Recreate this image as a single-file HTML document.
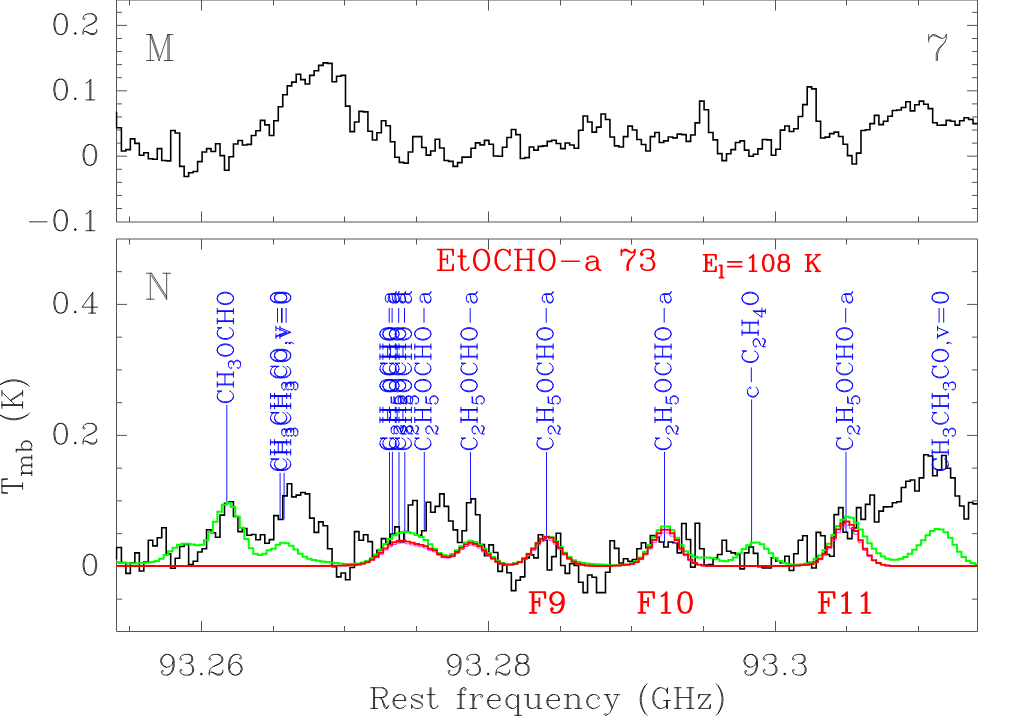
<!DOCTYPE html>
<html><head><meta charset="utf-8"><title>spectrum</title>
<style>html,body{margin:0;padding:0;background:#fff;font-family:"Liberation Sans",sans-serif}svg{display:block}</style>
</head><body>
<svg width="1025" height="717" viewBox="0 0 1025 717">
<title>EtOCHO-a 73 spectrum, panels M and N</title>
<desc>Two stacked spectra (panel M, panel N, figure 7). Axes: Rest frequency (GHz) 93.26 93.28 93.3; T_mb (K). Title: EtOCHO-a 73, E_l=108 K. Features F9 F10 F11. Line labels: CH3OCHO; CH3CH3CO,v=0; C2H5OCHO-a; c-C2H4O.</desc>
<rect width="1025" height="717" fill="#fff"/>
<path d="M129.50 222.0 v-5.5M129.50 0.0 v5.5M201.50 222.0 v-10.5M201.50 0.0 v10.5M273.50 222.0 v-5.5M273.50 0.0 v5.5M344.50 222.0 v-5.5M344.50 0.0 v5.5M416.50 222.0 v-5.5M416.50 0.0 v5.5M488.50 222.0 v-10.5M488.50 0.0 v10.5M560.50 222.0 v-5.5M560.50 0.0 v5.5M631.50 222.0 v-5.5M631.50 0.0 v5.5M703.50 222.0 v-5.5M703.50 0.0 v5.5M775.50 222.0 v-10.5M775.50 0.0 v10.5M846.50 222.0 v-5.5M846.50 0.0 v5.5M918.50 222.0 v-5.5M918.50 0.0 v5.5M116.5 208.52 h5.5M977.5 208.52 h-5.5M116.5 195.44 h5.5M977.5 195.44 h-5.5M116.5 182.36 h5.5M977.5 182.36 h-5.5M116.5 169.28 h5.5M977.5 169.28 h-5.5M116.5 156.20 h10.5M977.5 156.20 h-10.5M116.5 143.12 h5.5M977.5 143.12 h-5.5M116.5 130.04 h5.5M977.5 130.04 h-5.5M116.5 116.96 h5.5M977.5 116.96 h-5.5M116.5 103.88 h5.5M977.5 103.88 h-5.5M116.5 90.80 h10.5M977.5 90.80 h-10.5M116.5 77.72 h5.5M977.5 77.72 h-5.5M116.5 64.64 h5.5M977.5 64.64 h-5.5M116.5 51.56 h5.5M977.5 51.56 h-5.5M116.5 38.48 h5.5M977.5 38.48 h-5.5M116.5 25.40 h10.5M977.5 25.40 h-10.5M116.5 12.32 h5.5M977.5 12.32 h-5.5" stroke="#555" stroke-width="1" fill="none"/>
<path d="M129.50 631.5 v-5.5M129.50 239.0 v5.5M201.50 631.5 v-10.5M201.50 239.0 v10.5M273.50 631.5 v-5.5M273.50 239.0 v5.5M344.50 631.5 v-5.5M344.50 239.0 v5.5M416.50 631.5 v-5.5M416.50 239.0 v5.5M488.50 631.5 v-10.5M488.50 239.0 v10.5M560.50 631.5 v-5.5M560.50 239.0 v5.5M631.50 631.5 v-5.5M631.50 239.0 v5.5M703.50 631.5 v-5.5M703.50 239.0 v5.5M775.50 631.5 v-10.5M775.50 239.0 v10.5M846.50 631.5 v-5.5M846.50 239.0 v5.5M918.50 631.5 v-5.5M918.50 239.0 v5.5M116.5 599.15 h5.5M977.5 599.15 h-5.5M116.5 566.40 h10.5M977.5 566.40 h-10.5M116.5 533.65 h5.5M977.5 533.65 h-5.5M116.5 500.90 h5.5M977.5 500.90 h-5.5M116.5 468.15 h5.5M977.5 468.15 h-5.5M116.5 435.40 h10.5M977.5 435.40 h-10.5M116.5 402.65 h5.5M977.5 402.65 h-5.5M116.5 369.90 h5.5M977.5 369.90 h-5.5M116.5 337.15 h5.5M977.5 337.15 h-5.5M116.5 304.40 h10.5M977.5 304.40 h-10.5M116.5 271.65 h5.5M977.5 271.65 h-5.5" stroke="#555" stroke-width="1" fill="none"/>
<path d="M116.5 0.0 H977.5 V222.0 H116.5 Z M116.5 239.0 H977.5 V631.5 H116.5 Z" stroke="#555" stroke-width="1" fill="none"/>
<defs><clipPath id="ct"><rect x="115.5" y="0.0" width="862.6" height="222.0"/></clipPath><clipPath id="cb"><rect x="115.5" y="239.0" width="862.6" height="392.5"/></clipPath></defs>
<path d="M116.50 111.83 L116.50 127.77 L121.40 127.77 L121.40 150.93 L125.88 150.93 L125.88 149.58 L130.36 149.58 L130.36 138.85 L134.85 138.85 L134.85 143.38 L139.33 143.38 L139.33 155.29 L143.81 155.29 L143.81 152.77 L148.29 152.77 L148.29 158.81 L152.78 158.81 L152.78 159.32 L157.26 159.32 L157.26 148.58 L161.74 148.58 L161.74 160.49 L166.22 160.49 L166.22 160.83 L170.70 160.83 L170.70 130.46 L175.19 130.46 L175.19 132.97 L179.67 132.97 L179.67 166.36 L184.15 166.36 L184.15 176.43 L188.63 176.43 L188.63 172.74 L193.12 172.74 L193.12 171.56 L197.60 171.56 L197.60 161.66 L202.08 161.66 L202.08 151.93 L206.56 151.93 L206.56 148.58 L211.04 148.58 L211.04 151.43 L215.53 151.43 L215.53 143.71 L220.01 143.71 L220.01 155.62 L224.49 155.62 L224.49 170.22 L228.97 170.22 L228.97 156.80 L233.45 156.80 L233.45 144.05 L237.94 144.05 L237.94 140.52 L242.42 140.52 L242.42 145.05 L246.90 145.05 L246.90 144.38 L251.38 144.38 L251.38 135.49 L255.87 135.49 L255.87 130.79 L260.35 130.79 L260.35 120.39 L264.83 120.39 L264.83 124.92 L269.31 124.92 L269.31 135.49 L273.79 135.49 L273.79 120.72 L278.28 120.72 L278.28 106.80 L282.76 106.80 L282.76 94.72 L287.24 94.72 L287.24 85.83 L291.72 85.83 L291.72 82.13 L296.21 82.13 L296.21 74.25 L300.69 74.25 L300.69 79.62 L305.17 79.62 L305.17 83.98 L309.65 83.98 L309.65 75.42 L314.13 75.42 L314.13 70.72 L318.62 70.72 L318.62 65.36 L323.10 65.36 L323.10 62.84 L327.58 62.84 L327.58 63.34 L332.06 63.34 L332.06 81.80 L336.55 81.80 L336.55 76.26 L341.03 76.26 L341.03 75.42 L345.51 75.42 L345.51 106.13 L349.99 106.13 L349.99 131.63 L354.47 131.63 L354.47 122.07 L358.96 122.07 L358.96 111.33 L363.44 111.33 L363.44 111.83 L367.92 111.83 L367.92 131.30 L372.40 131.30 L372.40 140.02 L376.89 140.02 L376.89 132.81 L381.37 132.81 L381.37 120.72 L385.85 120.72 L385.85 125.76 L390.33 125.76 L390.33 141.70 L394.81 141.70 L394.81 157.30 L399.30 157.30 L399.30 162.34 L403.78 162.34 L403.78 163.17 L408.26 163.17 L408.26 151.93 L412.74 151.93 L412.74 136.66 L417.23 136.66 L417.23 136.66 L421.71 136.66 L421.71 147.57 L426.19 147.57 L426.19 155.12 L430.67 155.12 L430.67 150.93 L435.15 150.93 L435.15 139.18 L439.64 139.18 L439.64 148.07 L444.12 148.07 L444.12 160.49 L448.60 160.49 L448.60 161.33 L453.08 161.33 L453.08 166.36 L457.56 166.36 L457.56 162.67 L462.05 162.67 L462.05 157.13 L466.53 157.13 L466.53 157.13 L471.01 157.13 L471.01 148.24 L475.49 148.24 L475.49 142.87 L479.98 142.87 L479.98 144.89 L484.46 144.89 L484.46 140.36 L488.94 140.36 L488.94 144.21 L493.42 144.21 L493.42 155.96 L497.90 155.96 L497.90 156.30 L502.39 156.30 L502.39 147.23 L506.87 147.23 L506.87 137.50 L511.35 137.50 L511.35 129.45 L515.83 129.45 L515.83 134.65 L520.32 134.65 L520.32 158.48 L524.80 158.48 L524.80 157.64 L529.28 157.64 L529.28 147.07 L533.76 147.07 L533.76 150.09 L538.24 150.09 L538.24 146.40 L542.73 146.40 L542.73 145.89 L547.21 145.89 L547.21 141.36 L551.69 141.36 L551.69 140.19 L556.17 140.19 L556.17 143.54 L560.66 143.54 L560.66 148.58 L565.14 148.58 L565.14 143.04 L569.62 143.04 L569.62 145.05 L574.10 145.05 L574.10 148.24 L578.58 148.24 L578.58 130.29 L583.07 130.29 L583.07 116.03 L587.55 116.03 L587.55 122.07 L592.03 122.07 L592.03 132.13 L596.51 132.13 L596.51 127.10 L601.00 127.10 L601.00 114.01 L605.48 114.01 L605.48 119.55 L609.96 119.55 L609.96 137.00 L614.44 137.00 L614.44 145.89 L618.92 145.89 L618.92 147.07 L623.41 147.07 L623.41 136.66 L627.89 136.66 L627.89 126.09 L632.37 126.09 L632.37 129.95 L636.85 129.95 L636.85 139.52 L641.34 139.52 L641.34 144.55 L645.82 144.55 L645.82 150.93 L650.30 150.93 L650.30 136.66 L654.78 136.66 L654.78 132.47 L659.26 132.47 L659.26 142.54 L663.75 142.54 L663.75 140.86 L668.23 140.86 L668.23 137.00 L672.71 137.00 L672.71 137.84 L677.19 137.84 L677.19 134.15 L681.67 134.15 L681.67 134.65 L686.16 134.65 L686.16 141.36 L690.64 141.36 L690.64 134.99 L695.12 134.99 L695.12 122.91 L699.60 122.91 L699.60 101.09 L704.09 101.09 L704.09 109.82 L708.57 109.82 L708.57 132.47 L713.05 132.47 L713.05 139.85 L717.53 139.85 L717.53 153.61 L722.01 153.61 L722.01 160.66 L726.50 160.66 L726.50 153.78 L730.98 153.78 L730.98 149.58 L735.46 149.58 L735.46 142.54 L739.94 142.54 L739.94 140.86 L744.43 140.86 L744.43 150.09 L748.91 150.09 L748.91 156.30 L753.39 156.30 L753.39 154.28 L757.87 154.28 L757.87 148.91 L762.35 148.91 L762.35 139.52 L766.84 139.52 L766.84 139.85 L771.32 139.85 L771.32 155.29 L775.80 155.29 L775.80 149.25 L780.28 149.25 L780.28 130.12 L784.77 130.12 L784.77 125.93 L789.25 125.93 L789.25 131.46 L793.73 131.46 L793.73 128.78 L798.21 128.78 L798.21 116.53 L802.69 116.53 L802.69 104.62 L807.18 104.62 L807.18 86.83 L811.66 86.83 L811.66 88.85 L816.14 88.85 L816.14 121.23 L820.62 121.23 L820.62 138.01 L825.11 138.01 L825.11 137.17 L829.59 137.17 L829.59 133.64 L834.07 133.64 L834.07 132.13 L838.55 132.13 L838.55 136.50 L843.03 136.50 L843.03 144.21 L847.52 144.21 L847.52 155.62 L852.00 155.62 L852.00 164.01 L856.48 164.01 L856.48 153.11 L860.96 153.11 L860.96 130.46 L865.45 130.46 L865.45 129.79 L869.93 129.79 L869.93 123.58 L874.41 123.58 L874.41 115.36 L878.89 115.36 L878.89 124.58 L883.37 124.58 L883.37 121.23 L887.86 121.23 L887.86 116.19 L892.34 116.19 L892.34 110.49 L896.82 110.49 L896.82 109.99 L901.30 109.99 L901.30 107.47 L905.78 107.47 L905.78 101.77 L910.27 101.77 L910.27 110.83 L914.75 110.83 L914.75 104.79 L919.23 104.79 L919.23 101.09 L923.71 101.09 L923.71 104.28 L928.20 104.28 L928.20 108.64 L932.68 108.64 L932.68 122.74 L937.16 122.74 L937.16 125.26 L941.64 125.26 L941.64 125.09 L946.12 125.09 L946.12 120.39 L950.61 120.39 L950.61 121.23 L955.09 121.23 L955.09 125.09 L959.57 125.09 L959.57 120.72 L964.05 120.72 L964.05 117.70 L968.54 117.70 L968.54 119.38 L973.02 119.38 L973.02 123.58 L977.50 123.58" stroke="#000" stroke-width="1.6" fill="none" stroke-linejoin="miter" clip-path="url(#ct)"/>
<path d="M226.80 404.87 V502.20M280.10 472.77 V519.50M284.10 472.77 V519.50M389.50 451.94 V543.10M392.40 451.94 V534.30M399.00 451.94 V526.80M404.80 451.94 V540.50M424.30 451.94 V531.40M470.50 451.94 V498.90M546.50 451.94 V540.00M664.50 451.94 V542.60M751.60 399.47 V546.40M846.00 451.94 V532.20" stroke="#0000ff" stroke-width="0.9" fill="none" clip-path="url(#cb)"/>
<path d="M116.50 559.43 L116.50 547.52 L121.40 547.52 L121.40 562.62 L125.88 562.62 L125.88 573.36 L130.36 573.36 L130.36 562.95 L134.85 562.95 L134.85 552.89 L139.33 552.89 L139.33 571.01 L143.81 571.01 L143.81 562.11 L148.29 562.11 L148.29 540.30 L152.78 540.30 L152.78 545.84 L157.26 545.84 L157.26 537.79 L161.74 537.79 L161.74 527.72 L166.22 527.72 L166.22 553.72 L170.70 553.72 L170.70 568.32 L175.19 568.32 L175.19 558.26 L179.67 558.26 L179.67 546.51 L184.15 546.51 L184.15 544.50 L188.63 544.50 L188.63 564.63 L193.12 564.63 L193.12 561.28 L197.60 561.28 L197.60 552.05 L202.08 552.05 L202.08 548.69 L206.56 548.69 L206.56 529.73 L211.04 529.73 L211.04 532.75 L215.53 532.75 L215.53 537.28 L220.01 537.28 L220.01 515.13 L224.49 515.13 L224.49 503.39 L228.97 503.39 L228.97 501.71 L233.45 501.71 L233.45 516.48 L237.94 516.48 L237.94 531.58 L242.42 531.58 L242.42 528.56 L246.90 528.56 L246.90 535.27 L251.38 535.27 L251.38 534.43 L255.87 534.43 L255.87 539.80 L260.35 539.80 L260.35 534.77 L264.83 534.77 L264.83 543.32 L269.31 543.32 L269.31 539.63 L273.79 539.63 L273.79 515.64 L278.28 515.64 L278.28 519.50 L282.76 519.50 L282.76 495.84 L287.24 495.84 L287.24 483.76 L291.72 483.76 L291.72 496.85 L296.21 496.85 L296.21 495.17 L300.69 495.17 L300.69 492.48 L305.17 492.48 L305.17 493.83 L309.65 493.83 L309.65 518.15 L314.13 518.15 L314.13 532.42 L318.62 532.42 L318.62 521.85 L323.10 521.85 L323.10 525.70 L327.58 525.70 L327.58 548.69 L332.06 548.69 L332.06 566.64 L336.55 566.64 L336.55 576.88 L341.03 576.88 L341.03 573.02 L345.51 573.02 L345.51 579.73 L349.99 579.73 L349.99 567.48 L354.47 567.48 L354.47 531.58 L358.96 531.58 L358.96 540.30 L363.44 540.30 L363.44 534.77 L367.92 534.77 L367.92 541.64 L372.40 541.64 L372.40 556.24 L376.89 556.24 L376.89 550.37 L381.37 550.37 L381.37 538.62 L385.85 538.62 L385.85 543.66 L390.33 543.66 L390.33 533.93 L394.81 533.93 L394.81 526.88 L399.30 526.88 L399.30 541.98 L403.78 541.98 L403.78 531.58 L408.26 531.58 L408.26 505.07 L412.74 505.07 L412.74 500.54 L417.23 500.54 L417.23 535.27 L421.71 535.27 L421.71 530.74 L426.19 530.74 L426.19 502.21 L430.67 502.21 L430.67 512.28 L435.15 512.28 L435.15 506.41 L439.64 506.41 L439.64 493.83 L444.12 493.83 L444.12 506.41 L448.60 506.41 L448.60 521.01 L453.08 521.01 L453.08 529.90 L457.56 529.90 L457.56 542.48 L462.05 542.48 L462.05 530.74 L466.53 530.74 L466.53 502.72 L471.01 502.72 L471.01 498.86 L475.49 498.86 L475.49 514.80 L479.98 514.80 L479.98 544.50 L484.46 544.50 L484.46 555.74 L488.94 555.74 L488.94 544.83 L493.42 544.83 L493.42 552.55 L497.90 552.55 L497.90 571.34 L502.39 571.34 L502.39 565.13 L506.87 565.13 L506.87 572.68 L511.35 572.68 L511.35 590.64 L515.83 590.64 L515.83 580.23 L520.32 580.23 L520.32 576.88 L524.80 576.88 L524.80 557.92 L529.28 557.92 L529.28 554.90 L533.76 554.90 L533.76 557.92 L538.24 557.92 L538.24 534.77 L542.73 534.77 L542.73 539.97 L547.21 539.97 L547.21 570.00 L551.69 570.00 L551.69 556.58 L556.17 556.58 L556.17 533.26 L560.66 533.26 L560.66 565.47 L565.14 565.47 L565.14 573.36 L569.62 573.36 L569.62 563.79 L574.10 563.79 L574.10 565.47 L578.58 565.47 L578.58 582.25 L583.07 582.25 L583.07 592.65 L587.55 592.65 L587.55 575.03 L592.03 575.03 L592.03 577.21 L596.51 577.21 L596.51 592.65 L601.00 592.65 L601.00 592.65 L605.48 592.65 L605.48 572.18 L609.96 572.18 L609.96 540.81 L614.44 540.81 L614.44 548.36 L618.92 548.36 L618.92 562.95 L623.41 562.95 L623.41 558.76 L627.89 558.76 L627.89 561.28 L632.37 561.28 L632.37 559.60 L636.85 559.60 L636.85 548.69 L641.34 548.69 L641.34 542.82 L645.82 542.82 L645.82 547.68 L650.30 547.68 L650.30 535.60 L654.78 535.60 L654.78 536.95 L659.26 536.95 L659.26 541.98 L663.75 541.98 L663.75 547.01 L668.23 547.01 L668.23 541.98 L672.71 541.98 L672.71 542.82 L677.19 542.82 L677.19 552.89 L681.67 552.89 L681.67 523.52 L686.16 523.52 L686.16 539.46 L690.64 539.46 L690.64 567.15 L695.12 567.15 L695.12 523.19 L699.60 523.19 L699.60 548.69 L704.09 548.69 L704.09 565.13 L708.57 565.13 L708.57 564.63 L713.05 564.63 L713.05 557.92 L717.53 557.92 L717.53 554.56 L722.01 554.56 L722.01 540.30 L726.50 540.30 L726.50 551.21 L730.98 551.21 L730.98 552.89 L735.46 552.89 L735.46 554.56 L739.94 554.56 L739.94 568.83 L744.43 568.83 L744.43 552.89 L748.91 552.89 L748.91 547.01 L753.39 547.01 L753.39 553.39 L757.87 553.39 L757.87 566.81 L762.35 566.81 L762.35 567.99 L766.84 567.99 L766.84 567.99 L771.32 567.99 L771.32 557.92 L775.80 557.92 L775.80 561.28 L780.28 561.28 L780.28 562.95 L784.77 562.95 L784.77 556.24 L789.25 556.24 L789.25 570.50 L793.73 570.50 L793.73 553.72 L798.21 553.72 L798.21 540.30 L802.69 540.30 L802.69 535.77 L807.18 535.77 L807.18 562.95 L811.66 562.95 L811.66 567.99 L816.14 567.99 L816.14 532.42 L820.62 532.42 L820.62 535.77 L825.11 535.77 L825.11 554.56 L829.59 554.56 L829.59 556.24 L834.07 556.24 L834.07 514.63 L838.55 514.63 L838.55 507.58 L843.03 507.58 L843.03 532.25 L847.52 532.25 L847.52 538.62 L852.00 538.62 L852.00 528.05 L856.48 528.05 L856.48 507.58 L860.96 507.58 L860.96 519.33 L865.45 519.33 L865.45 504.40 L869.93 504.40 L869.93 495.00 L874.41 495.00 L874.41 522.01 L878.89 522.01 L878.89 511.11 L883.37 511.11 L883.37 506.91 L887.86 506.91 L887.86 506.74 L892.34 506.74 L892.34 502.72 L896.82 502.72 L896.82 501.71 L901.30 501.71 L901.30 487.45 L905.78 487.45 L905.78 481.24 L910.27 481.24 L910.27 480.07 L914.75 480.07 L914.75 490.97 L919.23 490.97 L919.23 477.89 L923.71 477.89 L923.71 454.73 L928.20 454.73 L928.20 456.07 L932.68 456.07 L932.68 475.70 L937.16 475.70 L937.16 469.83 L941.64 469.83 L941.64 455.57 L946.12 455.57 L946.12 468.32 L950.61 468.32 L950.61 477.89 L955.09 477.89 L955.09 496.01 L959.57 496.01 L959.57 506.07 L964.05 506.07 L964.05 518.99 L968.54 518.99 L968.54 502.55 L973.02 502.55 L973.02 503.89 L977.50 503.89" stroke="#000" stroke-width="1.6" fill="none" clip-path="url(#cb)"/>
<path d="M219.59 391.75 L221.90 390.98 L217.29 390.98 L219.59 391.75 L218.06 393.29 L217.29 395.61 L217.29 397.15 L218.06 399.47 L219.59 401.01 L221.13 401.78 L223.43 402.55 L227.26 402.55 L229.56 401.78 L231.10 401.01 L232.63 399.47 L233.40 397.15 L233.40 395.61 L232.63 393.29 L231.10 391.75 L229.56 390.98M217.29 397.15 L218.06 398.70 L219.59 400.24 L221.13 401.01 L223.43 401.78 L227.26 401.78 L229.56 401.01 L231.10 400.24 L232.63 398.70 L233.40 397.15M217.29 384.81 L233.40 384.81M217.29 384.04 L233.40 384.04M217.29 374.78 L233.40 374.78M217.29 374.00 L233.40 374.00M217.29 387.12 L217.29 381.72M217.29 377.09 L217.29 371.69M224.96 384.04 L224.96 374.78M233.40 387.12 L233.40 381.72M233.40 377.09 L233.40 371.69M230.75 367.83 L231.33 367.25 L231.90 367.83 L231.33 368.41 L230.75 368.41 L229.60 367.83 L229.03 367.25 L228.45 365.52 L228.45 363.20 L229.03 361.47 L230.18 360.89 L231.90 360.89 L233.05 361.47 L233.63 363.20 L233.63 364.94M228.45 363.20 L229.03 362.04 L230.18 361.47 L231.90 361.47 L233.05 362.04 L233.63 363.20M233.63 363.20 L234.21 362.04 L235.36 360.89 L236.51 360.31 L238.23 360.31 L239.38 360.89 L239.96 361.47 L240.53 363.20 L240.53 365.52 L239.96 367.25 L239.38 367.83 L238.23 368.41 L237.66 368.41 L237.08 367.83 L237.66 367.25 L238.23 367.83M234.78 361.47 L236.51 360.89 L238.23 360.89 L239.38 361.47 L239.96 362.04 L240.53 363.20M217.29 350.86 L218.06 353.17 L219.59 354.71 L221.13 355.49 L224.20 356.26 L226.50 356.26 L229.56 355.49 L231.10 354.71 L232.63 353.17 L233.40 350.86 L233.40 349.31 L232.63 347.00 L231.10 345.46 L229.56 344.68 L226.50 343.91 L224.20 343.91 L221.13 344.68 L219.59 345.46 L218.06 347.00 L217.29 349.31 L217.29 350.86M217.29 350.86 L218.06 352.40 L219.59 353.94 L221.13 354.71 L224.20 355.49 L226.50 355.49 L229.56 354.71 L231.10 353.94 L232.63 352.40 L233.40 350.86M233.40 349.31 L232.63 347.77 L231.10 346.23 L229.56 345.46 L226.50 344.68 L224.20 344.68 L221.13 345.46 L219.59 346.23 L218.06 347.77 L217.29 349.31M219.59 328.48 L221.90 327.71 L217.29 327.71 L219.59 328.48 L218.06 330.02 L217.29 332.34 L217.29 333.88 L218.06 336.20 L219.59 337.74 L221.13 338.51 L223.43 339.28 L227.26 339.28 L229.56 338.51 L231.10 337.74 L232.63 336.20 L233.40 333.88 L233.40 332.34 L232.63 330.02 L231.10 328.48 L229.56 327.71M217.29 333.88 L218.06 335.42 L219.59 336.97 L221.13 337.74 L223.43 338.51 L227.26 338.51 L229.56 337.74 L231.10 336.97 L232.63 335.42 L233.40 333.88M217.29 321.54 L233.40 321.54M217.29 320.76 L233.40 320.76M217.29 311.50 L233.40 311.50M217.29 310.73 L233.40 310.73M217.29 323.85 L217.29 318.45M217.29 313.82 L217.29 308.42M224.96 320.76 L224.96 311.50M233.40 323.85 L233.40 318.45M233.40 313.82 L233.40 308.42M217.29 299.16 L218.06 301.47 L219.59 303.02 L221.13 303.79 L224.20 304.56 L226.50 304.56 L229.56 303.79 L231.10 303.02 L232.63 301.47 L233.40 299.16 L233.40 297.62 L232.63 295.30 L231.10 293.76 L229.56 292.99 L226.50 292.21 L224.20 292.21 L221.13 292.99 L219.59 293.76 L218.06 295.30 L217.29 297.62 L217.29 299.16M217.29 299.16 L218.06 300.70 L219.59 302.25 L221.13 303.02 L224.20 303.79 L226.50 303.79 L229.56 303.02 L231.10 302.25 L232.63 300.70 L233.40 299.16M233.40 297.62 L232.63 296.07 L231.10 294.53 L229.56 293.76 L226.50 292.99 L224.20 292.99 L221.13 293.76 L219.59 294.53 L218.06 296.07 L217.29 297.62M272.89 459.65 L275.20 458.88 L270.59 458.88 L272.89 459.65 L271.36 461.20 L270.59 463.51 L270.59 465.05 L271.36 467.37 L272.89 468.91 L274.43 469.68 L276.73 470.45 L280.56 470.45 L282.87 469.68 L284.40 468.91 L285.93 467.37 L286.70 465.05 L286.70 463.51 L285.93 461.20 L284.40 459.65 L282.87 458.88M270.59 465.05 L271.36 466.60 L272.89 468.14 L274.43 468.91 L276.73 469.68 L280.56 469.68 L282.87 468.91 L284.40 468.14 L285.93 466.60 L286.70 465.05M270.59 452.71 L286.70 452.71M270.59 451.94 L286.70 451.94M270.59 442.68 L286.70 442.68M270.59 441.91 L286.70 441.91M270.59 455.02 L270.59 449.62M270.59 444.99 L270.59 439.59M278.26 451.94 L278.26 442.68M286.70 455.02 L286.70 449.62M286.70 444.99 L286.70 439.59M284.05 435.73 L284.63 435.15 L285.20 435.73 L284.63 436.31 L284.05 436.31 L282.90 435.73 L282.33 435.15 L281.75 433.42 L281.75 431.10 L282.33 429.37 L283.48 428.79 L285.20 428.79 L286.35 429.37 L286.93 431.10 L286.93 432.84M281.75 431.10 L282.33 429.95 L283.48 429.37 L285.20 429.37 L286.35 429.95 L286.93 431.10M286.93 431.10 L287.51 429.95 L288.66 428.79 L289.81 428.21 L291.53 428.21 L292.68 428.79 L293.26 429.37 L293.83 431.10 L293.83 433.42 L293.26 435.15 L292.68 435.73 L291.53 436.31 L290.96 436.31 L290.38 435.73 L290.96 435.15 L291.53 435.73M288.08 429.37 L289.81 428.79 L291.53 428.79 L292.68 429.37 L293.26 429.95 L293.83 431.10M272.89 413.36 L275.20 412.58 L270.59 412.58 L272.89 413.36 L271.36 414.90 L270.59 417.21 L270.59 418.76 L271.36 421.07 L272.89 422.62 L274.43 423.39 L276.73 424.16 L280.56 424.16 L282.87 423.39 L284.40 422.62 L285.93 421.07 L286.70 418.76 L286.70 417.21 L285.93 414.90 L284.40 413.36 L282.87 412.58M270.59 418.76 L271.36 420.30 L272.89 421.84 L274.43 422.62 L276.73 423.39 L280.56 423.39 L282.87 422.62 L284.40 421.84 L285.93 420.30 L286.70 418.76M270.59 406.41 L286.70 406.41M270.59 405.64 L286.70 405.64M270.59 396.38 L286.70 396.38M270.59 395.61 L286.70 395.61M270.59 408.73 L270.59 403.33M270.59 398.70 L270.59 393.29M278.26 405.64 L278.26 396.38M286.70 408.73 L286.70 403.33M286.70 398.70 L286.70 393.29M284.05 389.44 L284.63 388.86 L285.20 389.44 L284.63 390.02 L284.05 390.02 L282.90 389.44 L282.33 388.86 L281.75 387.12 L281.75 384.81 L282.33 383.07 L283.48 382.49 L285.20 382.49 L286.35 383.07 L286.93 384.81 L286.93 386.54M281.75 384.81 L282.33 383.65 L283.48 383.07 L285.20 383.07 L286.35 383.65 L286.93 384.81M286.93 384.81 L287.51 383.65 L288.66 382.49 L289.81 381.91 L291.53 381.91 L292.68 382.49 L293.26 383.07 L293.83 384.81 L293.83 387.12 L293.26 388.86 L292.68 389.44 L291.53 390.02 L290.96 390.02 L290.38 389.44 L290.96 388.86 L291.53 389.44M288.08 383.07 L289.81 382.49 L291.53 382.49 L292.68 383.07 L293.26 383.65 L293.83 384.81M272.89 367.06 L275.20 366.29 L270.59 366.29 L272.89 367.06 L271.36 368.60 L270.59 370.92 L270.59 372.46 L271.36 374.78 L272.89 376.32 L274.43 377.09 L276.73 377.86 L280.56 377.86 L282.87 377.09 L284.40 376.32 L285.93 374.78 L286.70 372.46 L286.70 370.92 L285.93 368.60 L284.40 367.06 L282.87 366.29M270.59 372.46 L271.36 374.00 L272.89 375.55 L274.43 376.32 L276.73 377.09 L280.56 377.09 L282.87 376.32 L284.40 375.55 L285.93 374.00 L286.70 372.46M270.59 356.26 L271.36 358.57 L272.89 360.12 L274.43 360.89 L277.50 361.66 L279.80 361.66 L282.87 360.89 L284.40 360.12 L285.93 358.57 L286.70 356.26 L286.70 354.71 L285.93 352.40 L284.40 350.86 L282.87 350.08 L279.80 349.31 L277.50 349.31 L274.43 350.08 L272.89 350.86 L271.36 352.40 L270.59 354.71 L270.59 356.26M270.59 356.26 L271.36 357.80 L272.89 359.34 L274.43 360.12 L277.50 360.89 L279.80 360.89 L282.87 360.12 L284.40 359.34 L285.93 357.80 L286.70 356.26M286.70 354.71 L285.93 353.17 L284.40 351.63 L282.87 350.86 L279.80 350.08 L277.50 350.08 L274.43 350.86 L272.89 351.63 L271.36 353.17 L270.59 354.71M286.70 343.14 L285.93 343.91 L285.17 343.14 L285.93 342.37 L287.47 342.37 L289.00 343.14 L289.77 343.91M285.93 343.52 L285.93 342.76M285.55 343.14 L286.32 343.14M275.96 336.97 L286.70 332.34M275.96 336.20 L285.17 332.34M275.96 327.71 L286.70 332.34M275.96 338.51 L275.96 333.88M275.96 330.79 L275.96 326.17M277.50 322.31 L277.50 308.42M282.10 322.31 L282.10 308.42M270.59 298.39 L271.36 300.70 L273.66 302.25 L277.50 303.02 L279.80 303.02 L283.63 302.25 L285.93 300.70 L286.70 298.39 L286.70 296.84 L285.93 294.53 L283.63 292.99 L279.80 292.21 L277.50 292.21 L273.66 292.99 L271.36 294.53 L270.59 296.84 L270.59 298.39M270.59 298.39 L271.36 299.93 L272.13 300.70 L273.66 301.47 L277.50 302.25 L279.80 302.25 L283.63 301.47 L285.17 300.70 L285.93 299.93 L286.70 298.39M286.70 296.84 L285.93 295.30 L285.17 294.53 L283.63 293.76 L279.80 292.99 L277.50 292.99 L273.66 293.76 L272.13 294.53 L271.36 295.30 L270.59 296.84M276.89 459.65 L279.20 458.88 L274.59 458.88 L276.89 459.65 L275.36 461.20 L274.59 463.51 L274.59 465.05 L275.36 467.37 L276.89 468.91 L278.43 469.68 L280.73 470.45 L284.56 470.45 L286.87 469.68 L288.40 468.91 L289.93 467.37 L290.70 465.05 L290.70 463.51 L289.93 461.20 L288.40 459.65 L286.87 458.88M274.59 465.05 L275.36 466.60 L276.89 468.14 L278.43 468.91 L280.73 469.68 L284.56 469.68 L286.87 468.91 L288.40 468.14 L289.93 466.60 L290.70 465.05M274.59 452.71 L290.70 452.71M274.59 451.94 L290.70 451.94M274.59 442.68 L290.70 442.68M274.59 441.91 L290.70 441.91M274.59 455.02 L274.59 449.62M274.59 444.99 L274.59 439.59M282.26 451.94 L282.26 442.68M290.70 455.02 L290.70 449.62M290.70 444.99 L290.70 439.59M288.05 435.73 L288.63 435.15 L289.20 435.73 L288.63 436.31 L288.05 436.31 L286.90 435.73 L286.33 435.15 L285.75 433.42 L285.75 431.10 L286.33 429.37 L287.48 428.79 L289.20 428.79 L290.35 429.37 L290.93 431.10 L290.93 432.84M285.75 431.10 L286.33 429.95 L287.48 429.37 L289.20 429.37 L290.35 429.95 L290.93 431.10M290.93 431.10 L291.51 429.95 L292.66 428.79 L293.81 428.21 L295.53 428.21 L296.68 428.79 L297.26 429.37 L297.83 431.10 L297.83 433.42 L297.26 435.15 L296.68 435.73 L295.53 436.31 L294.96 436.31 L294.38 435.73 L294.96 435.15 L295.53 435.73M292.08 429.37 L293.81 428.79 L295.53 428.79 L296.68 429.37 L297.26 429.95 L297.83 431.10M276.89 413.36 L279.20 412.58 L274.59 412.58 L276.89 413.36 L275.36 414.90 L274.59 417.21 L274.59 418.76 L275.36 421.07 L276.89 422.62 L278.43 423.39 L280.73 424.16 L284.56 424.16 L286.87 423.39 L288.40 422.62 L289.93 421.07 L290.70 418.76 L290.70 417.21 L289.93 414.90 L288.40 413.36 L286.87 412.58M274.59 418.76 L275.36 420.30 L276.89 421.84 L278.43 422.62 L280.73 423.39 L284.56 423.39 L286.87 422.62 L288.40 421.84 L289.93 420.30 L290.70 418.76M274.59 406.41 L290.70 406.41M274.59 405.64 L290.70 405.64M274.59 396.38 L290.70 396.38M274.59 395.61 L290.70 395.61M274.59 408.73 L274.59 403.33M274.59 398.70 L274.59 393.29M282.26 405.64 L282.26 396.38M290.70 408.73 L290.70 403.33M290.70 398.70 L290.70 393.29M288.05 389.44 L288.63 388.86 L289.20 389.44 L288.63 390.02 L288.05 390.02 L286.90 389.44 L286.33 388.86 L285.75 387.12 L285.75 384.81 L286.33 383.07 L287.48 382.49 L289.20 382.49 L290.35 383.07 L290.93 384.81 L290.93 386.54M285.75 384.81 L286.33 383.65 L287.48 383.07 L289.20 383.07 L290.35 383.65 L290.93 384.81M290.93 384.81 L291.51 383.65 L292.66 382.49 L293.81 381.91 L295.53 381.91 L296.68 382.49 L297.26 383.07 L297.83 384.81 L297.83 387.12 L297.26 388.86 L296.68 389.44 L295.53 390.02 L294.96 390.02 L294.38 389.44 L294.96 388.86 L295.53 389.44M292.08 383.07 L293.81 382.49 L295.53 382.49 L296.68 383.07 L297.26 383.65 L297.83 384.81M276.89 367.06 L279.20 366.29 L274.59 366.29 L276.89 367.06 L275.36 368.60 L274.59 370.92 L274.59 372.46 L275.36 374.78 L276.89 376.32 L278.43 377.09 L280.73 377.86 L284.56 377.86 L286.87 377.09 L288.40 376.32 L289.93 374.78 L290.70 372.46 L290.70 370.92 L289.93 368.60 L288.40 367.06 L286.87 366.29M274.59 372.46 L275.36 374.00 L276.89 375.55 L278.43 376.32 L280.73 377.09 L284.56 377.09 L286.87 376.32 L288.40 375.55 L289.93 374.00 L290.70 372.46M274.59 356.26 L275.36 358.57 L276.89 360.12 L278.43 360.89 L281.50 361.66 L283.80 361.66 L286.87 360.89 L288.40 360.12 L289.93 358.57 L290.70 356.26 L290.70 354.71 L289.93 352.40 L288.40 350.86 L286.87 350.08 L283.80 349.31 L281.50 349.31 L278.43 350.08 L276.89 350.86 L275.36 352.40 L274.59 354.71 L274.59 356.26M274.59 356.26 L275.36 357.80 L276.89 359.34 L278.43 360.12 L281.50 360.89 L283.80 360.89 L286.87 360.12 L288.40 359.34 L289.93 357.80 L290.70 356.26M290.70 354.71 L289.93 353.17 L288.40 351.63 L286.87 350.86 L283.80 350.08 L281.50 350.08 L278.43 350.86 L276.89 351.63 L275.36 353.17 L274.59 354.71M290.70 343.14 L289.93 343.91 L289.17 343.14 L289.93 342.37 L291.47 342.37 L293.00 343.14 L293.77 343.91M289.93 343.52 L289.93 342.76M289.55 343.14 L290.32 343.14M279.96 336.97 L290.70 332.34M279.96 336.20 L289.17 332.34M279.96 327.71 L290.70 332.34M279.96 338.51 L279.96 333.88M279.96 330.79 L279.96 326.17M281.50 322.31 L281.50 308.42M286.10 322.31 L286.10 308.42M274.59 298.39 L275.36 300.70 L277.66 302.25 L281.50 303.02 L283.80 303.02 L287.63 302.25 L289.93 300.70 L290.70 298.39 L290.70 296.84 L289.93 294.53 L287.63 292.99 L283.80 292.21 L281.50 292.21 L277.66 292.99 L275.36 294.53 L274.59 296.84 L274.59 298.39M274.59 298.39 L275.36 299.93 L276.13 300.70 L277.66 301.47 L281.50 302.25 L283.80 302.25 L287.63 301.47 L289.17 300.70 L289.93 299.93 L290.70 298.39M290.70 296.84 L289.93 295.30 L289.17 294.53 L287.63 293.76 L283.80 292.99 L281.50 292.99 L277.66 293.76 L276.13 294.53 L275.36 295.30 L274.59 296.84M382.29 438.82 L384.60 438.05 L379.99 438.05 L382.29 438.82 L380.76 440.36 L379.99 442.68 L379.99 444.22 L380.76 446.54 L382.29 448.08 L383.83 448.85 L386.13 449.62 L389.96 449.62 L392.27 448.85 L393.80 448.08 L395.33 446.54 L396.10 444.22 L396.10 442.68 L395.33 440.36 L393.80 438.82 L392.27 438.05M379.99 444.22 L380.76 445.76 L382.29 447.31 L383.83 448.08 L386.13 448.85 L389.96 448.85 L392.27 448.08 L393.80 447.31 L395.33 445.76 L396.10 444.22M393.45 433.42 L394.03 432.84 L394.60 433.42 L394.03 434.00 L393.45 434.00 L392.30 433.42 L391.73 432.84 L391.15 431.10 L391.15 428.79 L391.73 427.05 L392.30 426.47 L393.45 425.89 L394.60 425.89 L395.75 426.47 L396.91 428.21 L398.06 431.10 L398.63 432.26 L399.78 433.42 L401.51 434.00 L403.23 434.00M391.15 428.79 L391.73 427.63 L392.30 427.05 L393.45 426.47 L394.60 426.47 L395.75 427.05 L396.91 428.79 L398.06 431.10M402.08 434.00 L401.51 433.42 L401.51 432.26 L402.66 429.37 L402.66 427.63 L402.08 426.47 L401.51 425.89M401.51 432.26 L403.23 429.37 L403.23 427.05 L402.66 426.47 L401.51 425.89 L400.36 425.89M379.99 420.30 L396.10 420.30M379.99 419.53 L396.10 419.53M379.99 410.27 L396.10 410.27M379.99 409.50 L396.10 409.50M379.99 422.62 L379.99 417.21M379.99 412.58 L379.99 407.18M387.66 419.53 L387.66 410.27M396.10 422.62 L396.10 417.21M396.10 412.58 L396.10 407.18M391.15 402.75 L396.91 403.90M396.91 403.90 L395.75 402.75 L395.18 401.01 L395.18 399.27 L395.75 397.54 L396.91 396.38 L398.63 395.80 L399.78 395.80 L401.51 396.38 L402.66 397.54 L403.23 399.27 L403.23 401.01 L402.66 402.75 L402.08 403.33 L400.93 403.90 L400.36 403.90 L399.78 403.33 L400.36 402.75 L400.93 403.33M395.18 399.27 L395.75 398.12 L396.91 396.96 L398.63 396.38 L399.78 396.38 L401.51 396.96 L402.66 398.12 L403.23 399.27M391.15 402.75 L391.15 396.96M391.73 402.75 L391.73 399.85 L391.15 396.96M379.99 386.35 L380.76 388.67 L382.29 390.21 L383.83 390.98 L386.90 391.75 L389.20 391.75 L392.27 390.98 L393.80 390.21 L395.33 388.67 L396.10 386.35 L396.10 384.81 L395.33 382.49 L393.80 380.95 L392.27 380.18 L389.20 379.41 L386.90 379.41 L383.83 380.18 L382.29 380.95 L380.76 382.49 L379.99 384.81 L379.99 386.35M379.99 386.35 L380.76 387.89 L382.29 389.44 L383.83 390.21 L386.90 390.98 L389.20 390.98 L392.27 390.21 L393.80 389.44 L395.33 387.89 L396.10 386.35M396.10 384.81 L395.33 383.26 L393.80 381.72 L392.27 380.95 L389.20 380.18 L386.90 380.18 L383.83 380.95 L382.29 381.72 L380.76 383.26 L379.99 384.81M382.29 363.97 L384.60 363.20 L379.99 363.20 L382.29 363.97 L380.76 365.52 L379.99 367.83 L379.99 369.38 L380.76 371.69 L382.29 373.23 L383.83 374.00 L386.13 374.78 L389.96 374.78 L392.27 374.00 L393.80 373.23 L395.33 371.69 L396.10 369.38 L396.10 367.83 L395.33 365.52 L393.80 363.97 L392.27 363.20M379.99 369.38 L380.76 370.92 L382.29 372.46 L383.83 373.23 L386.13 374.00 L389.96 374.00 L392.27 373.23 L393.80 372.46 L395.33 370.92 L396.10 369.38M379.99 357.03 L396.10 357.03M379.99 356.26 L396.10 356.26M379.99 347.00 L396.10 347.00M379.99 346.23 L396.10 346.23M379.99 359.34 L379.99 353.94M379.99 349.31 L379.99 343.91M387.66 356.26 L387.66 347.00M396.10 359.34 L396.10 353.94M396.10 349.31 L396.10 343.91M379.99 334.65 L380.76 336.97 L382.29 338.51 L383.83 339.28 L386.90 340.05 L389.20 340.05 L392.27 339.28 L393.80 338.51 L395.33 336.97 L396.10 334.65 L396.10 333.11 L395.33 330.79 L393.80 329.25 L392.27 328.48 L389.20 327.71 L386.90 327.71 L383.83 328.48 L382.29 329.25 L380.76 330.79 L379.99 333.11 L379.99 334.65M379.99 334.65 L380.76 336.20 L382.29 337.74 L383.83 338.51 L386.90 339.28 L389.20 339.28 L392.27 338.51 L393.80 337.74 L395.33 336.20 L396.10 334.65M396.10 333.11 L395.33 331.57 L393.80 330.02 L392.27 329.25 L389.20 328.48 L386.90 328.48 L383.83 329.25 L382.29 330.02 L380.76 331.57 L379.99 333.11M389.20 322.31 L389.20 308.42M386.90 301.47 L387.66 301.47 L387.66 302.25 L386.90 302.25 L386.13 301.47 L385.36 299.93 L385.36 296.84 L386.13 295.30 L386.90 294.53 L388.43 293.76 L393.80 293.76 L395.33 292.99 L396.10 292.21M386.90 294.53 L393.80 294.53 L395.33 293.76 L396.10 292.21 L396.10 291.44M388.43 294.53 L389.20 295.30 L389.96 299.93 L390.73 302.25 L392.27 303.02 L393.80 303.02 L395.33 302.25 L396.10 299.93 L396.10 297.62 L395.33 296.07 L393.80 294.53M389.96 299.93 L390.73 301.47 L392.27 302.25 L393.80 302.25 L395.33 301.47 L396.10 299.93M385.19 438.82 L387.50 438.05 L382.89 438.05 L385.19 438.82 L383.66 440.36 L382.89 442.68 L382.89 444.22 L383.66 446.54 L385.19 448.08 L386.73 448.85 L389.03 449.62 L392.86 449.62 L395.17 448.85 L396.70 448.08 L398.23 446.54 L399.00 444.22 L399.00 442.68 L398.23 440.36 L396.70 438.82 L395.17 438.05M382.89 444.22 L383.66 445.76 L385.19 447.31 L386.73 448.08 L389.03 448.85 L392.86 448.85 L395.17 448.08 L396.70 447.31 L398.23 445.76 L399.00 444.22M396.35 433.42 L396.93 432.84 L397.50 433.42 L396.93 434.00 L396.35 434.00 L395.20 433.42 L394.63 432.84 L394.05 431.10 L394.05 428.79 L394.63 427.05 L395.20 426.47 L396.35 425.89 L397.50 425.89 L398.65 426.47 L399.81 428.21 L400.96 431.10 L401.53 432.26 L402.68 433.42 L404.41 434.00 L406.13 434.00M394.05 428.79 L394.63 427.63 L395.20 427.05 L396.35 426.47 L397.50 426.47 L398.65 427.05 L399.81 428.79 L400.96 431.10M404.98 434.00 L404.41 433.42 L404.41 432.26 L405.56 429.37 L405.56 427.63 L404.98 426.47 L404.41 425.89M404.41 432.26 L406.13 429.37 L406.13 427.05 L405.56 426.47 L404.41 425.89 L403.26 425.89M382.89 420.30 L399.00 420.30M382.89 419.53 L399.00 419.53M382.89 410.27 L399.00 410.27M382.89 409.50 L399.00 409.50M382.89 422.62 L382.89 417.21M382.89 412.58 L382.89 407.18M390.56 419.53 L390.56 410.27M399.00 422.62 L399.00 417.21M399.00 412.58 L399.00 407.18M394.05 402.75 L399.81 403.90M399.81 403.90 L398.65 402.75 L398.08 401.01 L398.08 399.27 L398.65 397.54 L399.81 396.38 L401.53 395.80 L402.68 395.80 L404.41 396.38 L405.56 397.54 L406.13 399.27 L406.13 401.01 L405.56 402.75 L404.98 403.33 L403.83 403.90 L403.26 403.90 L402.68 403.33 L403.26 402.75 L403.83 403.33M398.08 399.27 L398.65 398.12 L399.81 396.96 L401.53 396.38 L402.68 396.38 L404.41 396.96 L405.56 398.12 L406.13 399.27M394.05 402.75 L394.05 396.96M394.63 402.75 L394.63 399.85 L394.05 396.96M382.89 386.35 L383.66 388.67 L385.19 390.21 L386.73 390.98 L389.80 391.75 L392.10 391.75 L395.17 390.98 L396.70 390.21 L398.23 388.67 L399.00 386.35 L399.00 384.81 L398.23 382.49 L396.70 380.95 L395.17 380.18 L392.10 379.41 L389.80 379.41 L386.73 380.18 L385.19 380.95 L383.66 382.49 L382.89 384.81 L382.89 386.35M382.89 386.35 L383.66 387.89 L385.19 389.44 L386.73 390.21 L389.80 390.98 L392.10 390.98 L395.17 390.21 L396.70 389.44 L398.23 387.89 L399.00 386.35M399.00 384.81 L398.23 383.26 L396.70 381.72 L395.17 380.95 L392.10 380.18 L389.80 380.18 L386.73 380.95 L385.19 381.72 L383.66 383.26 L382.89 384.81M385.19 363.97 L387.50 363.20 L382.89 363.20 L385.19 363.97 L383.66 365.52 L382.89 367.83 L382.89 369.38 L383.66 371.69 L385.19 373.23 L386.73 374.00 L389.03 374.78 L392.86 374.78 L395.17 374.00 L396.70 373.23 L398.23 371.69 L399.00 369.38 L399.00 367.83 L398.23 365.52 L396.70 363.97 L395.17 363.20M382.89 369.38 L383.66 370.92 L385.19 372.46 L386.73 373.23 L389.03 374.00 L392.86 374.00 L395.17 373.23 L396.70 372.46 L398.23 370.92 L399.00 369.38M382.89 357.03 L399.00 357.03M382.89 356.26 L399.00 356.26M382.89 347.00 L399.00 347.00M382.89 346.23 L399.00 346.23M382.89 359.34 L382.89 353.94M382.89 349.31 L382.89 343.91M390.56 356.26 L390.56 347.00M399.00 359.34 L399.00 353.94M399.00 349.31 L399.00 343.91M382.89 334.65 L383.66 336.97 L385.19 338.51 L386.73 339.28 L389.80 340.05 L392.10 340.05 L395.17 339.28 L396.70 338.51 L398.23 336.97 L399.00 334.65 L399.00 333.11 L398.23 330.79 L396.70 329.25 L395.17 328.48 L392.10 327.71 L389.80 327.71 L386.73 328.48 L385.19 329.25 L383.66 330.79 L382.89 333.11 L382.89 334.65M382.89 334.65 L383.66 336.20 L385.19 337.74 L386.73 338.51 L389.80 339.28 L392.10 339.28 L395.17 338.51 L396.70 337.74 L398.23 336.20 L399.00 334.65M399.00 333.11 L398.23 331.57 L396.70 330.02 L395.17 329.25 L392.10 328.48 L389.80 328.48 L386.73 329.25 L385.19 330.02 L383.66 331.57 L382.89 333.11M392.10 322.31 L392.10 308.42M389.80 301.47 L390.56 301.47 L390.56 302.25 L389.80 302.25 L389.03 301.47 L388.26 299.93 L388.26 296.84 L389.03 295.30 L389.80 294.53 L391.33 293.76 L396.70 293.76 L398.23 292.99 L399.00 292.21M389.80 294.53 L396.70 294.53 L398.23 293.76 L399.00 292.21 L399.00 291.44M391.33 294.53 L392.10 295.30 L392.86 299.93 L393.63 302.25 L395.17 303.02 L396.70 303.02 L398.23 302.25 L399.00 299.93 L399.00 297.62 L398.23 296.07 L396.70 294.53M392.86 299.93 L393.63 301.47 L395.17 302.25 L396.70 302.25 L398.23 301.47 L399.00 299.93M391.79 438.82 L394.10 438.05 L389.49 438.05 L391.79 438.82 L390.26 440.36 L389.49 442.68 L389.49 444.22 L390.26 446.54 L391.79 448.08 L393.33 448.85 L395.63 449.62 L399.46 449.62 L401.77 448.85 L403.30 448.08 L404.83 446.54 L405.60 444.22 L405.60 442.68 L404.83 440.36 L403.30 438.82 L401.77 438.05M389.49 444.22 L390.26 445.76 L391.79 447.31 L393.33 448.08 L395.63 448.85 L399.46 448.85 L401.77 448.08 L403.30 447.31 L404.83 445.76 L405.60 444.22M402.95 433.42 L403.53 432.84 L404.10 433.42 L403.53 434.00 L402.95 434.00 L401.80 433.42 L401.23 432.84 L400.65 431.10 L400.65 428.79 L401.23 427.05 L401.80 426.47 L402.95 425.89 L404.10 425.89 L405.25 426.47 L406.41 428.21 L407.56 431.10 L408.13 432.26 L409.28 433.42 L411.01 434.00 L412.73 434.00M400.65 428.79 L401.23 427.63 L401.80 427.05 L402.95 426.47 L404.10 426.47 L405.25 427.05 L406.41 428.79 L407.56 431.10M411.58 434.00 L411.01 433.42 L411.01 432.26 L412.16 429.37 L412.16 427.63 L411.58 426.47 L411.01 425.89M411.01 432.26 L412.73 429.37 L412.73 427.05 L412.16 426.47 L411.01 425.89 L409.86 425.89M389.49 420.30 L405.60 420.30M389.49 419.53 L405.60 419.53M389.49 410.27 L405.60 410.27M389.49 409.50 L405.60 409.50M389.49 422.62 L389.49 417.21M389.49 412.58 L389.49 407.18M397.16 419.53 L397.16 410.27M405.60 422.62 L405.60 417.21M405.60 412.58 L405.60 407.18M400.65 402.75 L406.41 403.90M406.41 403.90 L405.25 402.75 L404.68 401.01 L404.68 399.27 L405.25 397.54 L406.41 396.38 L408.13 395.80 L409.28 395.80 L411.01 396.38 L412.16 397.54 L412.73 399.27 L412.73 401.01 L412.16 402.75 L411.58 403.33 L410.43 403.90 L409.86 403.90 L409.28 403.33 L409.86 402.75 L410.43 403.33M404.68 399.27 L405.25 398.12 L406.41 396.96 L408.13 396.38 L409.28 396.38 L411.01 396.96 L412.16 398.12 L412.73 399.27M400.65 402.75 L400.65 396.96M401.23 402.75 L401.23 399.85 L400.65 396.96M389.49 386.35 L390.26 388.67 L391.79 390.21 L393.33 390.98 L396.40 391.75 L398.70 391.75 L401.77 390.98 L403.30 390.21 L404.83 388.67 L405.60 386.35 L405.60 384.81 L404.83 382.49 L403.30 380.95 L401.77 380.18 L398.70 379.41 L396.40 379.41 L393.33 380.18 L391.79 380.95 L390.26 382.49 L389.49 384.81 L389.49 386.35M389.49 386.35 L390.26 387.89 L391.79 389.44 L393.33 390.21 L396.40 390.98 L398.70 390.98 L401.77 390.21 L403.30 389.44 L404.83 387.89 L405.60 386.35M405.60 384.81 L404.83 383.26 L403.30 381.72 L401.77 380.95 L398.70 380.18 L396.40 380.18 L393.33 380.95 L391.79 381.72 L390.26 383.26 L389.49 384.81M391.79 363.97 L394.10 363.20 L389.49 363.20 L391.79 363.97 L390.26 365.52 L389.49 367.83 L389.49 369.38 L390.26 371.69 L391.79 373.23 L393.33 374.00 L395.63 374.78 L399.46 374.78 L401.77 374.00 L403.30 373.23 L404.83 371.69 L405.60 369.38 L405.60 367.83 L404.83 365.52 L403.30 363.97 L401.77 363.20M389.49 369.38 L390.26 370.92 L391.79 372.46 L393.33 373.23 L395.63 374.00 L399.46 374.00 L401.77 373.23 L403.30 372.46 L404.83 370.92 L405.60 369.38M389.49 357.03 L405.60 357.03M389.49 356.26 L405.60 356.26M389.49 347.00 L405.60 347.00M389.49 346.23 L405.60 346.23M389.49 359.34 L389.49 353.94M389.49 349.31 L389.49 343.91M397.16 356.26 L397.16 347.00M405.60 359.34 L405.60 353.94M405.60 349.31 L405.60 343.91M389.49 334.65 L390.26 336.97 L391.79 338.51 L393.33 339.28 L396.40 340.05 L398.70 340.05 L401.77 339.28 L403.30 338.51 L404.83 336.97 L405.60 334.65 L405.60 333.11 L404.83 330.79 L403.30 329.25 L401.77 328.48 L398.70 327.71 L396.40 327.71 L393.33 328.48 L391.79 329.25 L390.26 330.79 L389.49 333.11 L389.49 334.65M389.49 334.65 L390.26 336.20 L391.79 337.74 L393.33 338.51 L396.40 339.28 L398.70 339.28 L401.77 338.51 L403.30 337.74 L404.83 336.20 L405.60 334.65M405.60 333.11 L404.83 331.57 L403.30 330.02 L401.77 329.25 L398.70 328.48 L396.40 328.48 L393.33 329.25 L391.79 330.02 L390.26 331.57 L389.49 333.11M398.70 322.31 L398.70 308.42M396.40 301.47 L397.16 301.47 L397.16 302.25 L396.40 302.25 L395.63 301.47 L394.86 299.93 L394.86 296.84 L395.63 295.30 L396.40 294.53 L397.93 293.76 L403.30 293.76 L404.83 292.99 L405.60 292.21M396.40 294.53 L403.30 294.53 L404.83 293.76 L405.60 292.21 L405.60 291.44M397.93 294.53 L398.70 295.30 L399.46 299.93 L400.23 302.25 L401.77 303.02 L403.30 303.02 L404.83 302.25 L405.60 299.93 L405.60 297.62 L404.83 296.07 L403.30 294.53M399.46 299.93 L400.23 301.47 L401.77 302.25 L403.30 302.25 L404.83 301.47 L405.60 299.93M397.59 438.82 L399.90 438.05 L395.29 438.05 L397.59 438.82 L396.06 440.36 L395.29 442.68 L395.29 444.22 L396.06 446.54 L397.59 448.08 L399.13 448.85 L401.43 449.62 L405.26 449.62 L407.57 448.85 L409.10 448.08 L410.63 446.54 L411.40 444.22 L411.40 442.68 L410.63 440.36 L409.10 438.82 L407.57 438.05M395.29 444.22 L396.06 445.76 L397.59 447.31 L399.13 448.08 L401.43 448.85 L405.26 448.85 L407.57 448.08 L409.10 447.31 L410.63 445.76 L411.40 444.22M408.75 433.42 L409.33 432.84 L409.90 433.42 L409.33 434.00 L408.75 434.00 L407.60 433.42 L407.03 432.84 L406.45 431.10 L406.45 428.79 L407.03 427.05 L407.60 426.47 L408.75 425.89 L409.90 425.89 L411.05 426.47 L412.21 428.21 L413.36 431.10 L413.93 432.26 L415.08 433.42 L416.81 434.00 L418.53 434.00M406.45 428.79 L407.03 427.63 L407.60 427.05 L408.75 426.47 L409.90 426.47 L411.05 427.05 L412.21 428.79 L413.36 431.10M417.38 434.00 L416.81 433.42 L416.81 432.26 L417.96 429.37 L417.96 427.63 L417.38 426.47 L416.81 425.89M416.81 432.26 L418.53 429.37 L418.53 427.05 L417.96 426.47 L416.81 425.89 L415.66 425.89M395.29 420.30 L411.40 420.30M395.29 419.53 L411.40 419.53M395.29 410.27 L411.40 410.27M395.29 409.50 L411.40 409.50M395.29 422.62 L395.29 417.21M395.29 412.58 L395.29 407.18M402.96 419.53 L402.96 410.27M411.40 422.62 L411.40 417.21M411.40 412.58 L411.40 407.18M406.45 402.75 L412.21 403.90M412.21 403.90 L411.05 402.75 L410.48 401.01 L410.48 399.27 L411.05 397.54 L412.21 396.38 L413.93 395.80 L415.08 395.80 L416.81 396.38 L417.96 397.54 L418.53 399.27 L418.53 401.01 L417.96 402.75 L417.38 403.33 L416.23 403.90 L415.66 403.90 L415.08 403.33 L415.66 402.75 L416.23 403.33M410.48 399.27 L411.05 398.12 L412.21 396.96 L413.93 396.38 L415.08 396.38 L416.81 396.96 L417.96 398.12 L418.53 399.27M406.45 402.75 L406.45 396.96M407.03 402.75 L407.03 399.85 L406.45 396.96M395.29 386.35 L396.06 388.67 L397.59 390.21 L399.13 390.98 L402.20 391.75 L404.50 391.75 L407.57 390.98 L409.10 390.21 L410.63 388.67 L411.40 386.35 L411.40 384.81 L410.63 382.49 L409.10 380.95 L407.57 380.18 L404.50 379.41 L402.20 379.41 L399.13 380.18 L397.59 380.95 L396.06 382.49 L395.29 384.81 L395.29 386.35M395.29 386.35 L396.06 387.89 L397.59 389.44 L399.13 390.21 L402.20 390.98 L404.50 390.98 L407.57 390.21 L409.10 389.44 L410.63 387.89 L411.40 386.35M411.40 384.81 L410.63 383.26 L409.10 381.72 L407.57 380.95 L404.50 380.18 L402.20 380.18 L399.13 380.95 L397.59 381.72 L396.06 383.26 L395.29 384.81M397.59 363.97 L399.90 363.20 L395.29 363.20 L397.59 363.97 L396.06 365.52 L395.29 367.83 L395.29 369.38 L396.06 371.69 L397.59 373.23 L399.13 374.00 L401.43 374.78 L405.26 374.78 L407.57 374.00 L409.10 373.23 L410.63 371.69 L411.40 369.38 L411.40 367.83 L410.63 365.52 L409.10 363.97 L407.57 363.20M395.29 369.38 L396.06 370.92 L397.59 372.46 L399.13 373.23 L401.43 374.00 L405.26 374.00 L407.57 373.23 L409.10 372.46 L410.63 370.92 L411.40 369.38M395.29 357.03 L411.40 357.03M395.29 356.26 L411.40 356.26M395.29 347.00 L411.40 347.00M395.29 346.23 L411.40 346.23M395.29 359.34 L395.29 353.94M395.29 349.31 L395.29 343.91M402.96 356.26 L402.96 347.00M411.40 359.34 L411.40 353.94M411.40 349.31 L411.40 343.91M395.29 334.65 L396.06 336.97 L397.59 338.51 L399.13 339.28 L402.20 340.05 L404.50 340.05 L407.57 339.28 L409.10 338.51 L410.63 336.97 L411.40 334.65 L411.40 333.11 L410.63 330.79 L409.10 329.25 L407.57 328.48 L404.50 327.71 L402.20 327.71 L399.13 328.48 L397.59 329.25 L396.06 330.79 L395.29 333.11 L395.29 334.65M395.29 334.65 L396.06 336.20 L397.59 337.74 L399.13 338.51 L402.20 339.28 L404.50 339.28 L407.57 338.51 L409.10 337.74 L410.63 336.20 L411.40 334.65M411.40 333.11 L410.63 331.57 L409.10 330.02 L407.57 329.25 L404.50 328.48 L402.20 328.48 L399.13 329.25 L397.59 330.02 L396.06 331.57 L395.29 333.11M404.50 322.31 L404.50 308.42M402.20 301.47 L402.96 301.47 L402.96 302.25 L402.20 302.25 L401.43 301.47 L400.66 299.93 L400.66 296.84 L401.43 295.30 L402.20 294.53 L403.73 293.76 L409.10 293.76 L410.63 292.99 L411.40 292.21M402.20 294.53 L409.10 294.53 L410.63 293.76 L411.40 292.21 L411.40 291.44M403.73 294.53 L404.50 295.30 L405.26 299.93 L406.03 302.25 L407.57 303.02 L409.10 303.02 L410.63 302.25 L411.40 299.93 L411.40 297.62 L410.63 296.07 L409.10 294.53M405.26 299.93 L406.03 301.47 L407.57 302.25 L409.10 302.25 L410.63 301.47 L411.40 299.93M417.09 438.82 L419.40 438.05 L414.79 438.05 L417.09 438.82 L415.56 440.36 L414.79 442.68 L414.79 444.22 L415.56 446.54 L417.09 448.08 L418.63 448.85 L420.93 449.62 L424.76 449.62 L427.07 448.85 L428.60 448.08 L430.13 446.54 L430.90 444.22 L430.90 442.68 L430.13 440.36 L428.60 438.82 L427.07 438.05M414.79 444.22 L415.56 445.76 L417.09 447.31 L418.63 448.08 L420.93 448.85 L424.76 448.85 L427.07 448.08 L428.60 447.31 L430.13 445.76 L430.90 444.22M428.25 433.42 L428.83 432.84 L429.40 433.42 L428.83 434.00 L428.25 434.00 L427.10 433.42 L426.53 432.84 L425.95 431.10 L425.95 428.79 L426.53 427.05 L427.10 426.47 L428.25 425.89 L429.40 425.89 L430.55 426.47 L431.71 428.21 L432.86 431.10 L433.43 432.26 L434.58 433.42 L436.31 434.00 L438.03 434.00M425.95 428.79 L426.53 427.63 L427.10 427.05 L428.25 426.47 L429.40 426.47 L430.55 427.05 L431.71 428.79 L432.86 431.10M436.88 434.00 L436.31 433.42 L436.31 432.26 L437.46 429.37 L437.46 427.63 L436.88 426.47 L436.31 425.89M436.31 432.26 L438.03 429.37 L438.03 427.05 L437.46 426.47 L436.31 425.89 L435.16 425.89M414.79 420.30 L430.90 420.30M414.79 419.53 L430.90 419.53M414.79 410.27 L430.90 410.27M414.79 409.50 L430.90 409.50M414.79 422.62 L414.79 417.21M414.79 412.58 L414.79 407.18M422.46 419.53 L422.46 410.27M430.90 422.62 L430.90 417.21M430.90 412.58 L430.90 407.18M425.95 402.75 L431.71 403.90M431.71 403.90 L430.55 402.75 L429.98 401.01 L429.98 399.27 L430.55 397.54 L431.71 396.38 L433.43 395.80 L434.58 395.80 L436.31 396.38 L437.46 397.54 L438.03 399.27 L438.03 401.01 L437.46 402.75 L436.88 403.33 L435.73 403.90 L435.16 403.90 L434.58 403.33 L435.16 402.75 L435.73 403.33M429.98 399.27 L430.55 398.12 L431.71 396.96 L433.43 396.38 L434.58 396.38 L436.31 396.96 L437.46 398.12 L438.03 399.27M425.95 402.75 L425.95 396.96M426.53 402.75 L426.53 399.85 L425.95 396.96M414.79 386.35 L415.56 388.67 L417.09 390.21 L418.63 390.98 L421.70 391.75 L424.00 391.75 L427.07 390.98 L428.60 390.21 L430.13 388.67 L430.90 386.35 L430.90 384.81 L430.13 382.49 L428.60 380.95 L427.07 380.18 L424.00 379.41 L421.70 379.41 L418.63 380.18 L417.09 380.95 L415.56 382.49 L414.79 384.81 L414.79 386.35M414.79 386.35 L415.56 387.89 L417.09 389.44 L418.63 390.21 L421.70 390.98 L424.00 390.98 L427.07 390.21 L428.60 389.44 L430.13 387.89 L430.90 386.35M430.90 384.81 L430.13 383.26 L428.60 381.72 L427.07 380.95 L424.00 380.18 L421.70 380.18 L418.63 380.95 L417.09 381.72 L415.56 383.26 L414.79 384.81M417.09 363.97 L419.40 363.20 L414.79 363.20 L417.09 363.97 L415.56 365.52 L414.79 367.83 L414.79 369.38 L415.56 371.69 L417.09 373.23 L418.63 374.00 L420.93 374.78 L424.76 374.78 L427.07 374.00 L428.60 373.23 L430.13 371.69 L430.90 369.38 L430.90 367.83 L430.13 365.52 L428.60 363.97 L427.07 363.20M414.79 369.38 L415.56 370.92 L417.09 372.46 L418.63 373.23 L420.93 374.00 L424.76 374.00 L427.07 373.23 L428.60 372.46 L430.13 370.92 L430.90 369.38M414.79 357.03 L430.90 357.03M414.79 356.26 L430.90 356.26M414.79 347.00 L430.90 347.00M414.79 346.23 L430.90 346.23M414.79 359.34 L414.79 353.94M414.79 349.31 L414.79 343.91M422.46 356.26 L422.46 347.00M430.90 359.34 L430.90 353.94M430.90 349.31 L430.90 343.91M414.79 334.65 L415.56 336.97 L417.09 338.51 L418.63 339.28 L421.70 340.05 L424.00 340.05 L427.07 339.28 L428.60 338.51 L430.13 336.97 L430.90 334.65 L430.90 333.11 L430.13 330.79 L428.60 329.25 L427.07 328.48 L424.00 327.71 L421.70 327.71 L418.63 328.48 L417.09 329.25 L415.56 330.79 L414.79 333.11 L414.79 334.65M414.79 334.65 L415.56 336.20 L417.09 337.74 L418.63 338.51 L421.70 339.28 L424.00 339.28 L427.07 338.51 L428.60 337.74 L430.13 336.20 L430.90 334.65M430.90 333.11 L430.13 331.57 L428.60 330.02 L427.07 329.25 L424.00 328.48 L421.70 328.48 L418.63 329.25 L417.09 330.02 L415.56 331.57 L414.79 333.11M424.00 322.31 L424.00 308.42M421.70 301.47 L422.46 301.47 L422.46 302.25 L421.70 302.25 L420.93 301.47 L420.16 299.93 L420.16 296.84 L420.93 295.30 L421.70 294.53 L423.23 293.76 L428.60 293.76 L430.13 292.99 L430.90 292.21M421.70 294.53 L428.60 294.53 L430.13 293.76 L430.90 292.21 L430.90 291.44M423.23 294.53 L424.00 295.30 L424.76 299.93 L425.53 302.25 L427.07 303.02 L428.60 303.02 L430.13 302.25 L430.90 299.93 L430.90 297.62 L430.13 296.07 L428.60 294.53M424.76 299.93 L425.53 301.47 L427.07 302.25 L428.60 302.25 L430.13 301.47 L430.90 299.93M463.29 438.82 L465.60 438.05 L460.99 438.05 L463.29 438.82 L461.76 440.36 L460.99 442.68 L460.99 444.22 L461.76 446.54 L463.29 448.08 L464.83 448.85 L467.13 449.62 L470.96 449.62 L473.27 448.85 L474.80 448.08 L476.33 446.54 L477.10 444.22 L477.10 442.68 L476.33 440.36 L474.80 438.82 L473.27 438.05M460.99 444.22 L461.76 445.76 L463.29 447.31 L464.83 448.08 L467.13 448.85 L470.96 448.85 L473.27 448.08 L474.80 447.31 L476.33 445.76 L477.10 444.22M474.45 433.42 L475.03 432.84 L475.60 433.42 L475.03 434.00 L474.45 434.00 L473.30 433.42 L472.73 432.84 L472.15 431.10 L472.15 428.79 L472.73 427.05 L473.30 426.47 L474.45 425.89 L475.60 425.89 L476.75 426.47 L477.91 428.21 L479.06 431.10 L479.63 432.26 L480.78 433.42 L482.51 434.00 L484.23 434.00M472.15 428.79 L472.73 427.63 L473.30 427.05 L474.45 426.47 L475.60 426.47 L476.75 427.05 L477.91 428.79 L479.06 431.10M483.08 434.00 L482.51 433.42 L482.51 432.26 L483.66 429.37 L483.66 427.63 L483.08 426.47 L482.51 425.89M482.51 432.26 L484.23 429.37 L484.23 427.05 L483.66 426.47 L482.51 425.89 L481.36 425.89M460.99 420.30 L477.10 420.30M460.99 419.53 L477.10 419.53M460.99 410.27 L477.10 410.27M460.99 409.50 L477.10 409.50M460.99 422.62 L460.99 417.21M460.99 412.58 L460.99 407.18M468.66 419.53 L468.66 410.27M477.10 422.62 L477.10 417.21M477.10 412.58 L477.10 407.18M472.15 402.75 L477.91 403.90M477.91 403.90 L476.75 402.75 L476.18 401.01 L476.18 399.27 L476.75 397.54 L477.91 396.38 L479.63 395.80 L480.78 395.80 L482.51 396.38 L483.66 397.54 L484.23 399.27 L484.23 401.01 L483.66 402.75 L483.08 403.33 L481.93 403.90 L481.36 403.90 L480.78 403.33 L481.36 402.75 L481.93 403.33M476.18 399.27 L476.75 398.12 L477.91 396.96 L479.63 396.38 L480.78 396.38 L482.51 396.96 L483.66 398.12 L484.23 399.27M472.15 402.75 L472.15 396.96M472.73 402.75 L472.73 399.85 L472.15 396.96M460.99 386.35 L461.76 388.67 L463.29 390.21 L464.83 390.98 L467.90 391.75 L470.20 391.75 L473.27 390.98 L474.80 390.21 L476.33 388.67 L477.10 386.35 L477.10 384.81 L476.33 382.49 L474.80 380.95 L473.27 380.18 L470.20 379.41 L467.90 379.41 L464.83 380.18 L463.29 380.95 L461.76 382.49 L460.99 384.81 L460.99 386.35M460.99 386.35 L461.76 387.89 L463.29 389.44 L464.83 390.21 L467.90 390.98 L470.20 390.98 L473.27 390.21 L474.80 389.44 L476.33 387.89 L477.10 386.35M477.10 384.81 L476.33 383.26 L474.80 381.72 L473.27 380.95 L470.20 380.18 L467.90 380.18 L464.83 380.95 L463.29 381.72 L461.76 383.26 L460.99 384.81M463.29 363.97 L465.60 363.20 L460.99 363.20 L463.29 363.97 L461.76 365.52 L460.99 367.83 L460.99 369.38 L461.76 371.69 L463.29 373.23 L464.83 374.00 L467.13 374.78 L470.96 374.78 L473.27 374.00 L474.80 373.23 L476.33 371.69 L477.10 369.38 L477.10 367.83 L476.33 365.52 L474.80 363.97 L473.27 363.20M460.99 369.38 L461.76 370.92 L463.29 372.46 L464.83 373.23 L467.13 374.00 L470.96 374.00 L473.27 373.23 L474.80 372.46 L476.33 370.92 L477.10 369.38M460.99 357.03 L477.10 357.03M460.99 356.26 L477.10 356.26M460.99 347.00 L477.10 347.00M460.99 346.23 L477.10 346.23M460.99 359.34 L460.99 353.94M460.99 349.31 L460.99 343.91M468.66 356.26 L468.66 347.00M477.10 359.34 L477.10 353.94M477.10 349.31 L477.10 343.91M460.99 334.65 L461.76 336.97 L463.29 338.51 L464.83 339.28 L467.90 340.05 L470.20 340.05 L473.27 339.28 L474.80 338.51 L476.33 336.97 L477.10 334.65 L477.10 333.11 L476.33 330.79 L474.80 329.25 L473.27 328.48 L470.20 327.71 L467.90 327.71 L464.83 328.48 L463.29 329.25 L461.76 330.79 L460.99 333.11 L460.99 334.65M460.99 334.65 L461.76 336.20 L463.29 337.74 L464.83 338.51 L467.90 339.28 L470.20 339.28 L473.27 338.51 L474.80 337.74 L476.33 336.20 L477.10 334.65M477.10 333.11 L476.33 331.57 L474.80 330.02 L473.27 329.25 L470.20 328.48 L467.90 328.48 L464.83 329.25 L463.29 330.02 L461.76 331.57 L460.99 333.11M470.20 322.31 L470.20 308.42M467.90 301.47 L468.66 301.47 L468.66 302.25 L467.90 302.25 L467.13 301.47 L466.36 299.93 L466.36 296.84 L467.13 295.30 L467.90 294.53 L469.43 293.76 L474.80 293.76 L476.33 292.99 L477.10 292.21M467.90 294.53 L474.80 294.53 L476.33 293.76 L477.10 292.21 L477.10 291.44M469.43 294.53 L470.20 295.30 L470.96 299.93 L471.73 302.25 L473.27 303.02 L474.80 303.02 L476.33 302.25 L477.10 299.93 L477.10 297.62 L476.33 296.07 L474.80 294.53M470.96 299.93 L471.73 301.47 L473.27 302.25 L474.80 302.25 L476.33 301.47 L477.10 299.93M539.29 438.82 L541.60 438.05 L536.99 438.05 L539.29 438.82 L537.76 440.36 L536.99 442.68 L536.99 444.22 L537.76 446.54 L539.29 448.08 L540.83 448.85 L543.13 449.62 L546.96 449.62 L549.26 448.85 L550.80 448.08 L552.33 446.54 L553.10 444.22 L553.10 442.68 L552.33 440.36 L550.80 438.82 L549.26 438.05M536.99 444.22 L537.76 445.76 L539.29 447.31 L540.83 448.08 L543.13 448.85 L546.96 448.85 L549.26 448.08 L550.80 447.31 L552.33 445.76 L553.10 444.22M550.45 433.42 L551.03 432.84 L551.60 433.42 L551.03 434.00 L550.45 434.00 L549.30 433.42 L548.73 432.84 L548.15 431.10 L548.15 428.79 L548.73 427.05 L549.30 426.47 L550.45 425.89 L551.60 425.89 L552.75 426.47 L553.91 428.21 L555.06 431.10 L555.63 432.26 L556.78 433.42 L558.51 434.00 L560.23 434.00M548.15 428.79 L548.73 427.63 L549.30 427.05 L550.45 426.47 L551.60 426.47 L552.75 427.05 L553.91 428.79 L555.06 431.10M559.08 434.00 L558.51 433.42 L558.51 432.26 L559.66 429.37 L559.66 427.63 L559.08 426.47 L558.51 425.89M558.51 432.26 L560.23 429.37 L560.23 427.05 L559.66 426.47 L558.51 425.89 L557.36 425.89M536.99 420.30 L553.10 420.30M536.99 419.53 L553.10 419.53M536.99 410.27 L553.10 410.27M536.99 409.50 L553.10 409.50M536.99 422.62 L536.99 417.21M536.99 412.58 L536.99 407.18M544.66 419.53 L544.66 410.27M553.10 422.62 L553.10 417.21M553.10 412.58 L553.10 407.18M548.15 402.75 L553.91 403.90M553.91 403.90 L552.75 402.75 L552.18 401.01 L552.18 399.27 L552.75 397.54 L553.91 396.38 L555.63 395.80 L556.78 395.80 L558.51 396.38 L559.66 397.54 L560.23 399.27 L560.23 401.01 L559.66 402.75 L559.08 403.33 L557.93 403.90 L557.36 403.90 L556.78 403.33 L557.36 402.75 L557.93 403.33M552.18 399.27 L552.75 398.12 L553.91 396.96 L555.63 396.38 L556.78 396.38 L558.51 396.96 L559.66 398.12 L560.23 399.27M548.15 402.75 L548.15 396.96M548.73 402.75 L548.73 399.85 L548.15 396.96M536.99 386.35 L537.76 388.67 L539.29 390.21 L540.83 390.98 L543.90 391.75 L546.20 391.75 L549.26 390.98 L550.80 390.21 L552.33 388.67 L553.10 386.35 L553.10 384.81 L552.33 382.49 L550.80 380.95 L549.26 380.18 L546.20 379.41 L543.90 379.41 L540.83 380.18 L539.29 380.95 L537.76 382.49 L536.99 384.81 L536.99 386.35M536.99 386.35 L537.76 387.89 L539.29 389.44 L540.83 390.21 L543.90 390.98 L546.20 390.98 L549.26 390.21 L550.80 389.44 L552.33 387.89 L553.10 386.35M553.10 384.81 L552.33 383.26 L550.80 381.72 L549.26 380.95 L546.20 380.18 L543.90 380.18 L540.83 380.95 L539.29 381.72 L537.76 383.26 L536.99 384.81M539.29 363.97 L541.60 363.20 L536.99 363.20 L539.29 363.97 L537.76 365.52 L536.99 367.83 L536.99 369.38 L537.76 371.69 L539.29 373.23 L540.83 374.00 L543.13 374.78 L546.96 374.78 L549.26 374.00 L550.80 373.23 L552.33 371.69 L553.10 369.38 L553.10 367.83 L552.33 365.52 L550.80 363.97 L549.26 363.20M536.99 369.38 L537.76 370.92 L539.29 372.46 L540.83 373.23 L543.13 374.00 L546.96 374.00 L549.26 373.23 L550.80 372.46 L552.33 370.92 L553.10 369.38M536.99 357.03 L553.10 357.03M536.99 356.26 L553.10 356.26M536.99 347.00 L553.10 347.00M536.99 346.23 L553.10 346.23M536.99 359.34 L536.99 353.94M536.99 349.31 L536.99 343.91M544.66 356.26 L544.66 347.00M553.10 359.34 L553.10 353.94M553.10 349.31 L553.10 343.91M536.99 334.65 L537.76 336.97 L539.29 338.51 L540.83 339.28 L543.90 340.05 L546.20 340.05 L549.26 339.28 L550.80 338.51 L552.33 336.97 L553.10 334.65 L553.10 333.11 L552.33 330.79 L550.80 329.25 L549.26 328.48 L546.20 327.71 L543.90 327.71 L540.83 328.48 L539.29 329.25 L537.76 330.79 L536.99 333.11 L536.99 334.65M536.99 334.65 L537.76 336.20 L539.29 337.74 L540.83 338.51 L543.90 339.28 L546.20 339.28 L549.26 338.51 L550.80 337.74 L552.33 336.20 L553.10 334.65M553.10 333.11 L552.33 331.57 L550.80 330.02 L549.26 329.25 L546.20 328.48 L543.90 328.48 L540.83 329.25 L539.29 330.02 L537.76 331.57 L536.99 333.11M546.20 322.31 L546.20 308.42M543.90 301.47 L544.66 301.47 L544.66 302.25 L543.90 302.25 L543.13 301.47 L542.36 299.93 L542.36 296.84 L543.13 295.30 L543.90 294.53 L545.43 293.76 L550.80 293.76 L552.33 292.99 L553.10 292.21M543.90 294.53 L550.80 294.53 L552.33 293.76 L553.10 292.21 L553.10 291.44M545.43 294.53 L546.20 295.30 L546.96 299.93 L547.73 302.25 L549.26 303.02 L550.80 303.02 L552.33 302.25 L553.10 299.93 L553.10 297.62 L552.33 296.07 L550.80 294.53M546.96 299.93 L547.73 301.47 L549.26 302.25 L550.80 302.25 L552.33 301.47 L553.10 299.93M657.29 438.82 L659.60 438.05 L654.99 438.05 L657.29 438.82 L655.76 440.36 L654.99 442.68 L654.99 444.22 L655.76 446.54 L657.29 448.08 L658.83 448.85 L661.13 449.62 L664.96 449.62 L667.26 448.85 L668.80 448.08 L670.33 446.54 L671.10 444.22 L671.10 442.68 L670.33 440.36 L668.80 438.82 L667.26 438.05M654.99 444.22 L655.76 445.76 L657.29 447.31 L658.83 448.08 L661.13 448.85 L664.96 448.85 L667.26 448.08 L668.80 447.31 L670.33 445.76 L671.10 444.22M668.45 433.42 L669.03 432.84 L669.60 433.42 L669.03 434.00 L668.45 434.00 L667.30 433.42 L666.73 432.84 L666.15 431.10 L666.15 428.79 L666.73 427.05 L667.30 426.47 L668.45 425.89 L669.60 425.89 L670.75 426.47 L671.91 428.21 L673.06 431.10 L673.63 432.26 L674.78 433.42 L676.51 434.00 L678.23 434.00M666.15 428.79 L666.73 427.63 L667.30 427.05 L668.45 426.47 L669.60 426.47 L670.75 427.05 L671.91 428.79 L673.06 431.10M677.08 434.00 L676.51 433.42 L676.51 432.26 L677.66 429.37 L677.66 427.63 L677.08 426.47 L676.51 425.89M676.51 432.26 L678.23 429.37 L678.23 427.05 L677.66 426.47 L676.51 425.89 L675.36 425.89M654.99 420.30 L671.10 420.30M654.99 419.53 L671.10 419.53M654.99 410.27 L671.10 410.27M654.99 409.50 L671.10 409.50M654.99 422.62 L654.99 417.21M654.99 412.58 L654.99 407.18M662.66 419.53 L662.66 410.27M671.10 422.62 L671.10 417.21M671.10 412.58 L671.10 407.18M666.15 402.75 L671.91 403.90M671.91 403.90 L670.75 402.75 L670.18 401.01 L670.18 399.27 L670.75 397.54 L671.91 396.38 L673.63 395.80 L674.78 395.80 L676.51 396.38 L677.66 397.54 L678.23 399.27 L678.23 401.01 L677.66 402.75 L677.08 403.33 L675.93 403.90 L675.36 403.90 L674.78 403.33 L675.36 402.75 L675.93 403.33M670.18 399.27 L670.75 398.12 L671.91 396.96 L673.63 396.38 L674.78 396.38 L676.51 396.96 L677.66 398.12 L678.23 399.27M666.15 402.75 L666.15 396.96M666.73 402.75 L666.73 399.85 L666.15 396.96M654.99 386.35 L655.76 388.67 L657.29 390.21 L658.83 390.98 L661.90 391.75 L664.20 391.75 L667.26 390.98 L668.80 390.21 L670.33 388.67 L671.10 386.35 L671.10 384.81 L670.33 382.49 L668.80 380.95 L667.26 380.18 L664.20 379.41 L661.90 379.41 L658.83 380.18 L657.29 380.95 L655.76 382.49 L654.99 384.81 L654.99 386.35M654.99 386.35 L655.76 387.89 L657.29 389.44 L658.83 390.21 L661.90 390.98 L664.20 390.98 L667.26 390.21 L668.80 389.44 L670.33 387.89 L671.10 386.35M671.10 384.81 L670.33 383.26 L668.80 381.72 L667.26 380.95 L664.20 380.18 L661.90 380.18 L658.83 380.95 L657.29 381.72 L655.76 383.26 L654.99 384.81M657.29 363.97 L659.60 363.20 L654.99 363.20 L657.29 363.97 L655.76 365.52 L654.99 367.83 L654.99 369.38 L655.76 371.69 L657.29 373.23 L658.83 374.00 L661.13 374.78 L664.96 374.78 L667.26 374.00 L668.80 373.23 L670.33 371.69 L671.10 369.38 L671.10 367.83 L670.33 365.52 L668.80 363.97 L667.26 363.20M654.99 369.38 L655.76 370.92 L657.29 372.46 L658.83 373.23 L661.13 374.00 L664.96 374.00 L667.26 373.23 L668.80 372.46 L670.33 370.92 L671.10 369.38M654.99 357.03 L671.10 357.03M654.99 356.26 L671.10 356.26M654.99 347.00 L671.10 347.00M654.99 346.23 L671.10 346.23M654.99 359.34 L654.99 353.94M654.99 349.31 L654.99 343.91M662.66 356.26 L662.66 347.00M671.10 359.34 L671.10 353.94M671.10 349.31 L671.10 343.91M654.99 334.65 L655.76 336.97 L657.29 338.51 L658.83 339.28 L661.90 340.05 L664.20 340.05 L667.26 339.28 L668.80 338.51 L670.33 336.97 L671.10 334.65 L671.10 333.11 L670.33 330.79 L668.80 329.25 L667.26 328.48 L664.20 327.71 L661.90 327.71 L658.83 328.48 L657.29 329.25 L655.76 330.79 L654.99 333.11 L654.99 334.65M654.99 334.65 L655.76 336.20 L657.29 337.74 L658.83 338.51 L661.90 339.28 L664.20 339.28 L667.26 338.51 L668.80 337.74 L670.33 336.20 L671.10 334.65M671.10 333.11 L670.33 331.57 L668.80 330.02 L667.26 329.25 L664.20 328.48 L661.90 328.48 L658.83 329.25 L657.29 330.02 L655.76 331.57 L654.99 333.11M664.20 322.31 L664.20 308.42M661.90 301.47 L662.66 301.47 L662.66 302.25 L661.90 302.25 L661.13 301.47 L660.36 299.93 L660.36 296.84 L661.13 295.30 L661.90 294.53 L663.43 293.76 L668.80 293.76 L670.33 292.99 L671.10 292.21M661.90 294.53 L668.80 294.53 L670.33 293.76 L671.10 292.21 L671.10 291.44M663.43 294.53 L664.20 295.30 L664.96 299.93 L665.73 302.25 L667.26 303.02 L668.80 303.02 L670.33 302.25 L671.10 299.93 L671.10 297.62 L670.33 296.07 L668.80 294.53M664.96 299.93 L665.73 301.47 L667.26 302.25 L668.80 302.25 L670.33 301.47 L671.10 299.93M749.76 387.89 L750.53 388.67 L751.30 387.89 L750.53 387.12 L749.76 387.12 L748.23 388.67 L747.46 390.21 L747.46 392.52 L748.23 394.84 L749.76 396.38 L752.06 397.15 L753.60 397.15 L755.90 396.38 L757.43 394.84 L758.20 392.52 L758.20 390.98 L757.43 388.67 L755.90 387.12M747.46 392.52 L748.23 394.07 L749.76 395.61 L752.06 396.38 L753.60 396.38 L755.90 395.61 L757.43 394.07 L758.20 392.52M751.30 381.72 L751.30 367.83M744.39 351.63 L746.70 350.86 L742.09 350.86 L744.39 351.63 L742.86 353.17 L742.09 355.49 L742.09 357.03 L742.86 359.34 L744.39 360.89 L745.93 361.66 L748.23 362.43 L752.06 362.43 L754.37 361.66 L755.90 360.89 L757.43 359.34 L758.20 357.03 L758.20 355.49 L757.43 353.17 L755.90 351.63 L754.37 350.86M742.09 357.03 L742.86 358.57 L744.39 360.12 L745.93 360.89 L748.23 361.66 L752.06 361.66 L754.37 360.89 L755.90 360.12 L757.43 358.57 L758.20 357.03M755.55 346.23 L756.13 345.65 L756.70 346.23 L756.13 346.81 L755.55 346.81 L754.40 346.23 L753.83 345.65 L753.25 343.91 L753.25 341.60 L753.83 339.86 L754.40 339.28 L755.55 338.70 L756.70 338.70 L757.85 339.28 L759.01 341.02 L760.16 343.91 L760.73 345.07 L761.88 346.23 L763.61 346.81 L765.33 346.81M753.25 341.60 L753.83 340.44 L754.40 339.86 L755.55 339.28 L756.70 339.28 L757.85 339.86 L759.01 341.60 L760.16 343.91M764.18 346.81 L763.61 346.23 L763.61 345.07 L764.76 342.18 L764.76 340.44 L764.18 339.28 L763.61 338.70M763.61 345.07 L765.33 342.18 L765.33 339.86 L764.76 339.28 L763.61 338.70 L762.46 338.70M742.09 333.11 L758.20 333.11M742.09 332.34 L758.20 332.34M742.09 323.08 L758.20 323.08M742.09 322.31 L758.20 322.31M742.09 335.42 L742.09 330.02M742.09 325.39 L742.09 319.99M749.76 332.34 L749.76 323.08M758.20 335.42 L758.20 330.02M758.20 325.39 L758.20 319.99M754.40 311.50 L765.33 311.50M753.25 310.93 L765.33 310.93M753.25 310.93 L761.88 317.29 L761.88 308.03M765.33 313.24 L765.33 309.19M742.09 299.16 L742.86 301.47 L744.39 303.02 L745.93 303.79 L749.00 304.56 L751.30 304.56 L754.37 303.79 L755.90 303.02 L757.43 301.47 L758.20 299.16 L758.20 297.62 L757.43 295.30 L755.90 293.76 L754.37 292.99 L751.30 292.21 L749.00 292.21 L745.93 292.99 L744.39 293.76 L742.86 295.30 L742.09 297.62 L742.09 299.16M742.09 299.16 L742.86 300.70 L744.39 302.25 L745.93 303.02 L749.00 303.79 L751.30 303.79 L754.37 303.02 L755.90 302.25 L757.43 300.70 L758.20 299.16M758.20 297.62 L757.43 296.07 L755.90 294.53 L754.37 293.76 L751.30 292.99 L749.00 292.99 L745.93 293.76 L744.39 294.53 L742.86 296.07 L742.09 297.62M838.79 438.82 L841.10 438.05 L836.49 438.05 L838.79 438.82 L837.26 440.36 L836.49 442.68 L836.49 444.22 L837.26 446.54 L838.79 448.08 L840.33 448.85 L842.63 449.62 L846.46 449.62 L848.76 448.85 L850.30 448.08 L851.83 446.54 L852.60 444.22 L852.60 442.68 L851.83 440.36 L850.30 438.82 L848.76 438.05M836.49 444.22 L837.26 445.76 L838.79 447.31 L840.33 448.08 L842.63 448.85 L846.46 448.85 L848.76 448.08 L850.30 447.31 L851.83 445.76 L852.60 444.22M849.95 433.42 L850.53 432.84 L851.10 433.42 L850.53 434.00 L849.95 434.00 L848.80 433.42 L848.23 432.84 L847.65 431.10 L847.65 428.79 L848.23 427.05 L848.80 426.47 L849.95 425.89 L851.10 425.89 L852.25 426.47 L853.41 428.21 L854.56 431.10 L855.13 432.26 L856.28 433.42 L858.01 434.00 L859.73 434.00M847.65 428.79 L848.23 427.63 L848.80 427.05 L849.95 426.47 L851.10 426.47 L852.25 427.05 L853.41 428.79 L854.56 431.10M858.58 434.00 L858.01 433.42 L858.01 432.26 L859.16 429.37 L859.16 427.63 L858.58 426.47 L858.01 425.89M858.01 432.26 L859.73 429.37 L859.73 427.05 L859.16 426.47 L858.01 425.89 L856.86 425.89M836.49 420.30 L852.60 420.30M836.49 419.53 L852.60 419.53M836.49 410.27 L852.60 410.27M836.49 409.50 L852.60 409.50M836.49 422.62 L836.49 417.21M836.49 412.58 L836.49 407.18M844.16 419.53 L844.16 410.27M852.60 422.62 L852.60 417.21M852.60 412.58 L852.60 407.18M847.65 402.75 L853.41 403.90M853.41 403.90 L852.25 402.75 L851.68 401.01 L851.68 399.27 L852.25 397.54 L853.41 396.38 L855.13 395.80 L856.28 395.80 L858.01 396.38 L859.16 397.54 L859.73 399.27 L859.73 401.01 L859.16 402.75 L858.58 403.33 L857.43 403.90 L856.86 403.90 L856.28 403.33 L856.86 402.75 L857.43 403.33M851.68 399.27 L852.25 398.12 L853.41 396.96 L855.13 396.38 L856.28 396.38 L858.01 396.96 L859.16 398.12 L859.73 399.27M847.65 402.75 L847.65 396.96M848.23 402.75 L848.23 399.85 L847.65 396.96M836.49 386.35 L837.26 388.67 L838.79 390.21 L840.33 390.98 L843.40 391.75 L845.70 391.75 L848.76 390.98 L850.30 390.21 L851.83 388.67 L852.60 386.35 L852.60 384.81 L851.83 382.49 L850.30 380.95 L848.76 380.18 L845.70 379.41 L843.40 379.41 L840.33 380.18 L838.79 380.95 L837.26 382.49 L836.49 384.81 L836.49 386.35M836.49 386.35 L837.26 387.89 L838.79 389.44 L840.33 390.21 L843.40 390.98 L845.70 390.98 L848.76 390.21 L850.30 389.44 L851.83 387.89 L852.60 386.35M852.60 384.81 L851.83 383.26 L850.30 381.72 L848.76 380.95 L845.70 380.18 L843.40 380.18 L840.33 380.95 L838.79 381.72 L837.26 383.26 L836.49 384.81M838.79 363.97 L841.10 363.20 L836.49 363.20 L838.79 363.97 L837.26 365.52 L836.49 367.83 L836.49 369.38 L837.26 371.69 L838.79 373.23 L840.33 374.00 L842.63 374.78 L846.46 374.78 L848.76 374.00 L850.30 373.23 L851.83 371.69 L852.60 369.38 L852.60 367.83 L851.83 365.52 L850.30 363.97 L848.76 363.20M836.49 369.38 L837.26 370.92 L838.79 372.46 L840.33 373.23 L842.63 374.00 L846.46 374.00 L848.76 373.23 L850.30 372.46 L851.83 370.92 L852.60 369.38M836.49 357.03 L852.60 357.03M836.49 356.26 L852.60 356.26M836.49 347.00 L852.60 347.00M836.49 346.23 L852.60 346.23M836.49 359.34 L836.49 353.94M836.49 349.31 L836.49 343.91M844.16 356.26 L844.16 347.00M852.60 359.34 L852.60 353.94M852.60 349.31 L852.60 343.91M836.49 334.65 L837.26 336.97 L838.79 338.51 L840.33 339.28 L843.40 340.05 L845.70 340.05 L848.76 339.28 L850.30 338.51 L851.83 336.97 L852.60 334.65 L852.60 333.11 L851.83 330.79 L850.30 329.25 L848.76 328.48 L845.70 327.71 L843.40 327.71 L840.33 328.48 L838.79 329.25 L837.26 330.79 L836.49 333.11 L836.49 334.65M836.49 334.65 L837.26 336.20 L838.79 337.74 L840.33 338.51 L843.40 339.28 L845.70 339.28 L848.76 338.51 L850.30 337.74 L851.83 336.20 L852.60 334.65M852.60 333.11 L851.83 331.57 L850.30 330.02 L848.76 329.25 L845.70 328.48 L843.40 328.48 L840.33 329.25 L838.79 330.02 L837.26 331.57 L836.49 333.11M845.70 322.31 L845.70 308.42M843.40 301.47 L844.16 301.47 L844.16 302.25 L843.40 302.25 L842.63 301.47 L841.86 299.93 L841.86 296.84 L842.63 295.30 L843.40 294.53 L844.93 293.76 L850.30 293.76 L851.83 292.99 L852.60 292.21M843.40 294.53 L850.30 294.53 L851.83 293.76 L852.60 292.21 L852.60 291.44M844.93 294.53 L845.70 295.30 L846.46 299.93 L847.23 302.25 L848.76 303.02 L850.30 303.02 L851.83 302.25 L852.60 299.93 L852.60 297.62 L851.83 296.07 L850.30 294.53M846.46 299.93 L847.23 301.47 L848.76 302.25 L850.30 302.25 L851.83 301.47 L852.60 299.93M934.49 459.65 L936.80 458.88 L932.19 458.88 L934.49 459.65 L932.96 461.20 L932.19 463.51 L932.19 465.05 L932.96 467.37 L934.49 468.91 L936.03 469.68 L938.33 470.45 L942.16 470.45 L944.47 469.68 L946.00 468.91 L947.53 467.37 L948.30 465.05 L948.30 463.51 L947.53 461.20 L946.00 459.65 L944.47 458.88M932.19 465.05 L932.96 466.60 L934.49 468.14 L936.03 468.91 L938.33 469.68 L942.16 469.68 L944.47 468.91 L946.00 468.14 L947.53 466.60 L948.30 465.05M932.19 452.71 L948.30 452.71M932.19 451.94 L948.30 451.94M932.19 442.68 L948.30 442.68M932.19 441.91 L948.30 441.91M932.19 455.02 L932.19 449.62M932.19 444.99 L932.19 439.59M939.86 451.94 L939.86 442.68M948.30 455.02 L948.30 449.62M948.30 444.99 L948.30 439.59M945.65 435.73 L946.23 435.15 L946.80 435.73 L946.23 436.31 L945.65 436.31 L944.50 435.73 L943.93 435.15 L943.35 433.42 L943.35 431.10 L943.93 429.37 L945.08 428.79 L946.80 428.79 L947.95 429.37 L948.53 431.10 L948.53 432.84M943.35 431.10 L943.93 429.95 L945.08 429.37 L946.80 429.37 L947.95 429.95 L948.53 431.10M948.53 431.10 L949.11 429.95 L950.26 428.79 L951.41 428.21 L953.13 428.21 L954.28 428.79 L954.86 429.37 L955.43 431.10 L955.43 433.42 L954.86 435.15 L954.28 435.73 L953.13 436.31 L952.56 436.31 L951.98 435.73 L952.56 435.15 L953.13 435.73M949.68 429.37 L951.41 428.79 L953.13 428.79 L954.28 429.37 L954.86 429.95 L955.43 431.10M934.49 413.36 L936.80 412.58 L932.19 412.58 L934.49 413.36 L932.96 414.90 L932.19 417.21 L932.19 418.76 L932.96 421.07 L934.49 422.62 L936.03 423.39 L938.33 424.16 L942.16 424.16 L944.47 423.39 L946.00 422.62 L947.53 421.07 L948.30 418.76 L948.30 417.21 L947.53 414.90 L946.00 413.36 L944.47 412.58M932.19 418.76 L932.96 420.30 L934.49 421.84 L936.03 422.62 L938.33 423.39 L942.16 423.39 L944.47 422.62 L946.00 421.84 L947.53 420.30 L948.30 418.76M932.19 406.41 L948.30 406.41M932.19 405.64 L948.30 405.64M932.19 396.38 L948.30 396.38M932.19 395.61 L948.30 395.61M932.19 408.73 L932.19 403.33M932.19 398.70 L932.19 393.29M939.86 405.64 L939.86 396.38M948.30 408.73 L948.30 403.33M948.30 398.70 L948.30 393.29M945.65 389.44 L946.23 388.86 L946.80 389.44 L946.23 390.02 L945.65 390.02 L944.50 389.44 L943.93 388.86 L943.35 387.12 L943.35 384.81 L943.93 383.07 L945.08 382.49 L946.80 382.49 L947.95 383.07 L948.53 384.81 L948.53 386.54M943.35 384.81 L943.93 383.65 L945.08 383.07 L946.80 383.07 L947.95 383.65 L948.53 384.81M948.53 384.81 L949.11 383.65 L950.26 382.49 L951.41 381.91 L953.13 381.91 L954.28 382.49 L954.86 383.07 L955.43 384.81 L955.43 387.12 L954.86 388.86 L954.28 389.44 L953.13 390.02 L952.56 390.02 L951.98 389.44 L952.56 388.86 L953.13 389.44M949.68 383.07 L951.41 382.49 L953.13 382.49 L954.28 383.07 L954.86 383.65 L955.43 384.81M934.49 367.06 L936.80 366.29 L932.19 366.29 L934.49 367.06 L932.96 368.60 L932.19 370.92 L932.19 372.46 L932.96 374.78 L934.49 376.32 L936.03 377.09 L938.33 377.86 L942.16 377.86 L944.47 377.09 L946.00 376.32 L947.53 374.78 L948.30 372.46 L948.30 370.92 L947.53 368.60 L946.00 367.06 L944.47 366.29M932.19 372.46 L932.96 374.00 L934.49 375.55 L936.03 376.32 L938.33 377.09 L942.16 377.09 L944.47 376.32 L946.00 375.55 L947.53 374.00 L948.30 372.46M932.19 356.26 L932.96 358.57 L934.49 360.12 L936.03 360.89 L939.10 361.66 L941.40 361.66 L944.47 360.89 L946.00 360.12 L947.53 358.57 L948.30 356.26 L948.30 354.71 L947.53 352.40 L946.00 350.86 L944.47 350.08 L941.40 349.31 L939.10 349.31 L936.03 350.08 L934.49 350.86 L932.96 352.40 L932.19 354.71 L932.19 356.26M932.19 356.26 L932.96 357.80 L934.49 359.34 L936.03 360.12 L939.10 360.89 L941.40 360.89 L944.47 360.12 L946.00 359.34 L947.53 357.80 L948.30 356.26M948.30 354.71 L947.53 353.17 L946.00 351.63 L944.47 350.86 L941.40 350.08 L939.10 350.08 L936.03 350.86 L934.49 351.63 L932.96 353.17 L932.19 354.71M948.30 343.14 L947.53 343.91 L946.77 343.14 L947.53 342.37 L949.07 342.37 L950.60 343.14 L951.37 343.91M947.53 343.52 L947.53 342.76M947.15 343.14 L947.92 343.14M937.56 336.97 L948.30 332.34M937.56 336.20 L946.77 332.34M937.56 327.71 L948.30 332.34M937.56 338.51 L937.56 333.88M937.56 330.79 L937.56 326.17M939.10 322.31 L939.10 308.42M943.70 322.31 L943.70 308.42M932.19 298.39 L932.96 300.70 L935.26 302.25 L939.10 303.02 L941.40 303.02 L945.23 302.25 L947.53 300.70 L948.30 298.39 L948.30 296.84 L947.53 294.53 L945.23 292.99 L941.40 292.21 L939.10 292.21 L935.26 292.99 L932.96 294.53 L932.19 296.84 L932.19 298.39M932.19 298.39 L932.96 299.93 L933.73 300.70 L935.26 301.47 L939.10 302.25 L941.40 302.25 L945.23 301.47 L946.77 300.70 L947.53 299.93 L948.30 298.39M948.30 296.84 L947.53 295.30 L946.77 294.53 L945.23 293.76 L941.40 292.99 L939.10 292.99 L935.26 293.76 L933.73 294.53 L932.96 295.30 L932.19 296.84" stroke="#0000ff" stroke-width="0.95" fill="none" stroke-linecap="round" stroke-linejoin="round"/>
<path d="M116.50 562.00 L118.77 562.00 L118.77 562.95 L123.25 562.95 L123.25 562.95 L127.73 562.95 L127.73 563.46 L132.21 563.46 L132.21 563.46 L136.70 563.46 L136.70 563.29 L141.18 563.29 L141.18 562.95 L145.66 562.95 L145.66 562.62 L150.14 562.62 L150.14 562.11 L154.63 562.11 L154.63 560.94 L159.11 560.94 L159.11 558.76 L163.59 558.76 L163.59 555.07 L168.07 555.07 L168.07 551.21 L172.55 551.21 L172.55 547.85 L177.04 547.85 L177.04 544.83 L181.52 544.83 L181.52 543.66 L186.00 543.66 L186.00 543.66 L190.48 543.66 L190.48 544.50 L194.97 544.50 L194.97 545.34 L199.45 545.34 L199.45 544.83 L203.93 544.83 L203.93 540.30 L208.41 540.30 L208.41 531.91 L212.89 531.91 L212.89 521.85 L217.38 521.85 L217.38 511.78 L221.86 511.78 L221.86 504.73 L226.34 504.73 L226.34 502.89 L230.82 502.89 L230.82 507.08 L235.30 507.08 L235.30 516.48 L239.79 516.48 L239.79 527.72 L244.27 527.72 L244.27 538.96 L248.75 538.96 L248.75 548.36 L253.23 548.36 L253.23 553.72 L257.72 553.72 L257.72 554.90 L262.20 554.90 L262.20 553.72 L266.68 553.72 L266.68 550.37 L271.16 550.37 L271.16 548.69 L275.64 548.69 L275.64 544.83 L280.13 544.83 L280.13 542.82 L284.61 542.82 L284.61 543.32 L289.09 543.32 L289.09 545.84 L293.57 545.84 L293.57 549.53 L298.06 549.53 L298.06 553.72 L302.54 553.72 L302.54 556.74 L307.02 556.74 L307.02 558.76 L311.50 558.76 L311.50 559.93 L315.98 559.93 L315.98 560.77 L320.47 560.77 L320.47 561.61 L324.95 561.61 L324.95 562.11 L329.43 562.11 L329.43 562.45 L333.91 562.45 L333.91 563.12 L338.40 563.12 L338.40 563.62 L342.88 563.62 L342.88 563.96 L347.36 563.96 L347.36 563.96 L351.84 563.96 L351.84 563.79 L356.32 563.79 L356.32 563.46 L360.81 563.46 L360.81 562.62 L365.29 562.62 L365.29 560.94 L369.77 560.94 L369.77 558.09 L374.25 558.09 L374.25 554.56 L378.74 554.56 L378.74 549.53 L383.22 549.53 L383.22 543.99 L387.70 543.99 L387.70 538.96 L392.18 538.96 L392.18 535.27 L396.66 535.27 L396.66 533.26 L401.15 533.26 L401.15 531.91 L405.63 531.91 L405.63 531.91 L410.11 531.91 L410.11 533.26 L414.59 533.26 L414.59 534.93 L419.08 534.93 L419.08 536.95 L423.56 536.95 L423.56 539.97 L428.04 539.97 L428.04 544.16 L432.52 544.16 L432.52 549.03 L437.00 549.03 L437.00 552.89 L441.49 552.89 L441.49 555.07 L445.97 555.07 L445.97 555.74 L450.45 555.74 L450.45 554.06 L454.93 554.06 L454.93 550.37 L459.41 550.37 L459.41 546.17 L463.90 546.17 L463.90 542.48 L468.38 542.48 L468.38 540.64 L472.86 540.64 L472.86 541.98 L477.34 541.98 L477.34 544.50 L481.83 544.50 L481.83 548.69 L486.31 548.69 L486.31 553.05 L490.79 553.05 L490.79 557.08 L495.27 557.08 L495.27 560.77 L499.75 560.77 L499.75 563.12 L504.24 563.12 L504.24 564.13 L508.72 564.13 L508.72 564.21 L513.20 564.21 L513.20 563.37 L517.68 563.37 L517.68 561.69 L522.17 561.69 L522.17 558.34 L526.65 558.34 L526.65 553.64 L531.13 553.64 L531.13 548.27 L535.61 548.27 L535.61 542.90 L540.09 542.90 L540.09 538.46 L544.58 538.46 L544.58 536.44 L549.06 536.44 L549.06 537.28 L553.54 537.28 L553.54 541.31 L558.02 541.31 L558.02 547.01 L562.51 547.01 L562.51 552.72 L566.99 552.72 L566.99 557.08 L571.47 557.08 L571.47 560.27 L575.95 560.27 L575.95 561.95 L580.43 561.95 L580.43 562.95 L584.92 562.95 L584.92 563.62 L589.40 563.62 L589.40 563.96 L593.88 563.96 L593.88 564.13 L598.36 564.13 L598.36 564.46 L602.85 564.46 L602.85 564.80 L607.33 564.80 L607.33 565.13 L611.81 565.13 L611.81 565.30 L616.29 565.30 L616.29 565.30 L620.77 565.30 L620.77 564.97 L625.26 564.97 L625.26 564.46 L629.74 564.46 L629.74 563.29 L634.22 563.29 L634.22 561.11 L638.70 561.11 L638.70 557.42 L643.19 557.42 L643.19 551.71 L647.67 551.71 L647.67 545.00 L652.15 545.00 L652.15 537.28 L656.63 537.28 L656.63 530.23 L661.11 530.23 L661.11 526.38 L665.60 526.38 L665.60 526.38 L670.08 526.38 L670.08 530.23 L674.56 530.23 L674.56 537.79 L679.04 537.79 L679.04 545.34 L683.52 545.34 L683.52 551.21 L688.01 551.21 L688.01 555.07 L692.49 555.07 L692.49 556.74 L696.97 556.74 L696.97 557.42 L701.45 557.42 L701.45 557.42 L705.94 557.42 L705.94 557.42 L710.42 557.42 L710.42 557.92 L714.90 557.92 L714.90 559.26 L719.38 559.26 L719.38 560.77 L723.86 560.77 L723.86 561.28 L728.35 561.28 L728.35 560.10 L732.83 560.10 L732.83 557.42 L737.31 557.42 L737.31 553.22 L741.79 553.22 L741.79 549.03 L746.28 549.03 L746.28 545.34 L750.76 545.34 L750.76 542.82 L755.24 542.82 L755.24 542.48 L759.72 542.48 L759.72 544.16 L764.20 544.16 L764.20 548.69 L768.69 548.69 L768.69 553.22 L773.17 553.22 L773.17 557.92 L777.65 557.92 L777.65 560.94 L782.13 560.94 L782.13 562.95 L786.62 562.95 L786.62 564.30 L791.10 564.30 L791.10 564.63 L795.58 564.63 L795.58 564.63 L800.06 564.63 L800.06 564.13 L804.54 564.13 L804.54 563.46 L809.03 563.46 L809.03 562.11 L813.51 562.11 L813.51 558.76 L817.99 558.76 L817.99 555.40 L822.47 555.40 L822.47 550.37 L826.96 550.37 L826.96 543.66 L831.44 543.66 L831.44 534.93 L835.92 534.93 L835.92 526.04 L840.40 526.04 L840.40 519.83 L844.88 519.83 L844.88 516.81 L849.37 516.81 L849.37 517.65 L853.85 517.65 L853.85 522.68 L858.33 522.68 L858.33 529.40 L862.81 529.40 L862.81 536.61 L867.30 536.61 L867.30 543.15 L871.78 543.15 L871.78 548.69 L876.26 548.69 L876.26 553.22 L880.74 553.22 L880.74 556.58 L885.22 556.58 L885.22 558.76 L889.71 558.76 L889.71 559.77 L894.19 559.77 L894.19 559.77 L898.67 559.77 L898.67 558.76 L903.15 558.76 L903.15 557.08 L907.63 557.08 L907.63 553.72 L912.12 553.72 L912.12 549.87 L916.60 549.87 L916.60 545.34 L921.08 545.34 L921.08 540.30 L925.56 540.30 L925.56 535.27 L930.05 535.27 L930.05 531.07 L934.53 531.07 L934.53 529.06 L939.01 529.06 L939.01 529.40 L943.49 529.40 L943.49 532.25 L947.97 532.25 L947.97 537.79 L952.46 537.79 L952.46 544.83 L956.94 544.83 L956.94 551.71 L961.42 551.71 L961.42 557.08 L965.90 557.08 L965.90 560.94 L970.39 560.94 L970.39 562.95 L974.87 562.95 L974.87 564.13 L977.50 564.13" stroke="#00ff00" stroke-width="2.0" fill="none" clip-path="url(#cb)"/>
<path d="M116.50 566.30 L118.77 566.30 L118.77 566.28 L123.25 566.28 L123.25 566.28 L127.73 566.28 L127.73 566.28 L132.21 566.28 L132.21 566.28 L136.70 566.28 L136.70 566.28 L141.18 566.28 L141.18 566.28 L145.66 566.28 L145.66 566.28 L150.14 566.28 L150.14 566.28 L154.63 566.28 L154.63 566.28 L159.11 566.28 L159.11 566.28 L163.59 566.28 L163.59 566.28 L168.07 566.28 L168.07 566.28 L172.55 566.28 L172.55 566.28 L177.04 566.28 L177.04 566.28 L181.52 566.28 L181.52 566.28 L186.00 566.28 L186.00 566.28 L190.48 566.28 L190.48 566.28 L194.97 566.28 L194.97 566.28 L199.45 566.28 L199.45 566.28 L203.93 566.28 L203.93 566.28 L208.41 566.28 L208.41 566.28 L212.89 566.28 L212.89 566.28 L217.38 566.28 L217.38 566.28 L221.86 566.28 L221.86 566.28 L226.34 566.28 L226.34 566.28 L230.82 566.28 L230.82 566.28 L235.30 566.28 L235.30 566.28 L239.79 566.28 L239.79 566.28 L244.27 566.28 L244.27 566.28 L248.75 566.28 L248.75 566.28 L253.23 566.28 L253.23 566.28 L257.72 566.28 L257.72 566.28 L262.20 566.28 L262.20 566.28 L266.68 566.28 L266.68 566.28 L271.16 566.28 L271.16 566.28 L275.64 566.28 L275.64 566.28 L280.13 566.28 L280.13 566.28 L284.61 566.28 L284.61 566.28 L289.09 566.28 L289.09 566.28 L293.57 566.28 L293.57 566.28 L298.06 566.28 L298.06 566.28 L302.54 566.28 L302.54 566.28 L307.02 566.28 L307.02 566.28 L311.50 566.28 L311.50 566.28 L315.98 566.28 L315.98 566.28 L320.47 566.28 L320.47 566.28 L324.95 566.28 L324.95 566.28 L329.43 566.28 L329.43 566.12 L333.91 566.12 L333.91 565.97 L338.40 565.97 L338.40 565.97 L342.88 565.97 L342.88 565.81 L347.36 565.81 L347.36 565.66 L351.84 565.66 L351.84 565.35 L356.32 565.35 L356.32 564.89 L360.81 564.89 L360.81 564.11 L365.29 564.11 L365.29 562.72 L369.77 562.72 L369.77 560.41 L374.25 560.41 L374.25 557.79 L378.74 557.79 L378.74 554.24 L383.22 554.24 L383.22 550.07 L387.70 550.07 L387.70 546.83 L392.18 546.83 L392.18 544.51 L396.66 544.51 L396.66 543.12 L401.15 543.12 L401.15 542.97 L405.63 542.97 L405.63 543.89 L410.11 543.89 L410.11 544.97 L414.59 544.97 L414.59 546.05 L419.08 546.05 L419.08 546.83 L423.56 546.83 L423.56 548.06 L428.04 548.06 L428.04 550.38 L432.52 550.38 L432.52 551.92 L437.00 551.92 L437.00 555.32 L441.49 555.32 L441.49 557.79 L445.97 557.79 L445.97 558.09 L450.45 558.09 L450.45 556.86 L454.93 556.86 L454.93 553.46 L459.41 553.46 L459.41 549.60 L463.90 549.60 L463.90 546.52 L468.38 546.52 L468.38 544.97 L472.86 544.97 L472.86 546.05 L477.34 546.05 L477.34 548.06 L481.83 548.06 L481.83 551.92 L486.31 551.92 L486.31 555.78 L490.79 555.78 L490.79 559.33 L495.27 559.33 L495.27 562.42 L499.75 562.42 L499.75 564.27 L504.24 564.27 L504.24 565.04 L508.72 565.04 L508.72 565.04 L513.20 565.04 L513.20 564.27 L517.68 564.27 L517.68 562.72 L522.17 562.72 L522.17 559.64 L526.65 559.64 L526.65 555.32 L531.13 555.32 L531.13 550.38 L535.61 550.38 L535.61 545.44 L540.09 545.44 L540.09 541.42 L544.58 541.42 L544.58 539.57 L549.06 539.57 L549.06 540.34 L553.54 540.34 L553.54 544.20 L558.02 544.20 L558.02 549.60 L562.51 549.60 L562.51 555.01 L566.99 555.01 L566.99 559.33 L571.47 559.33 L571.47 562.42 L575.95 562.42 L575.95 564.27 L580.43 564.27 L580.43 565.19 L584.92 565.19 L584.92 565.81 L589.40 565.81 L589.40 566.12 L593.88 566.12 L593.88 566.28 L598.36 566.28 L598.36 566.28 L602.85 566.28 L602.85 566.28 L607.33 566.28 L607.33 566.28 L611.81 566.28 L611.81 565.97 L616.29 565.97 L616.29 565.81 L620.77 565.81 L620.77 565.50 L625.26 565.50 L625.26 565.04 L629.74 565.04 L629.74 564.27 L634.22 564.27 L634.22 562.72 L638.70 562.72 L638.70 559.64 L643.19 559.64 L643.19 555.01 L647.67 555.01 L647.67 549.14 L652.15 549.14 L652.15 542.35 L656.63 542.35 L656.63 536.17 L661.11 536.17 L661.11 532.93 L665.60 532.93 L665.60 532.93 L670.08 532.93 L670.08 536.17 L674.56 536.17 L674.56 542.35 L679.04 542.35 L679.04 550.07 L683.52 550.07 L683.52 555.78 L688.01 555.78 L688.01 560.41 L692.49 560.41 L692.49 563.50 L696.97 563.50 L696.97 565.04 L701.45 565.04 L701.45 565.81 L705.94 565.81 L705.94 566.28 L710.42 566.28 L710.42 566.28 L714.90 566.28 L714.90 566.28 L719.38 566.28 L719.38 566.28 L723.86 566.28 L723.86 566.28 L728.35 566.28 L728.35 566.28 L732.83 566.28 L732.83 566.28 L737.31 566.28 L737.31 566.28 L741.79 566.28 L741.79 566.28 L746.28 566.28 L746.28 566.28 L750.76 566.28 L750.76 566.28 L755.24 566.28 L755.24 566.28 L759.72 566.28 L759.72 566.28 L764.20 566.28 L764.20 566.28 L768.69 566.28 L768.69 566.28 L773.17 566.28 L773.17 566.28 L777.65 566.28 L777.65 566.28 L782.13 566.28 L782.13 566.28 L786.62 566.28 L786.62 566.28 L791.10 566.28 L791.10 565.97 L795.58 565.97 L795.58 565.81 L800.06 565.81 L800.06 565.50 L804.54 565.50 L804.54 565.19 L809.03 565.19 L809.03 564.58 L813.51 564.58 L813.51 562.72 L817.99 562.72 L817.99 559.64 L822.47 559.64 L822.47 555.01 L826.96 555.01 L826.96 548.83 L831.44 548.83 L831.44 540.34 L835.92 540.34 L835.92 532.62 L840.40 532.62 L840.40 527.22 L844.88 527.22 L844.88 525.37 L849.37 525.37 L849.37 528.46 L853.85 528.46 L853.85 534.17 L858.33 534.17 L858.33 542.66 L862.81 542.66 L862.81 550.38 L867.30 550.38 L867.30 556.55 L871.78 556.55 L871.78 560.87 L876.26 560.87 L876.26 563.50 L880.74 563.50 L880.74 565.04 L885.22 565.04 L885.22 565.81 L889.71 565.81 L889.71 566.28 L894.19 566.28 L894.19 566.28 L898.67 566.28 L898.67 566.28 L903.15 566.28 L903.15 566.28 L907.63 566.28 L907.63 566.28 L912.12 566.28 L912.12 566.28 L916.60 566.28 L916.60 566.28 L921.08 566.28 L921.08 566.28 L925.56 566.28 L925.56 566.28 L930.05 566.28 L930.05 566.28 L934.53 566.28 L934.53 566.28 L939.01 566.28 L939.01 566.28 L943.49 566.28 L943.49 566.28 L947.97 566.28 L947.97 566.28 L952.46 566.28 L952.46 566.28 L956.94 566.28 L956.94 566.28 L961.42 566.28 L961.42 566.28 L965.90 566.28 L965.90 566.28 L970.39 566.28 L970.39 566.28 L974.87 566.28 L974.87 566.28 L977.50 566.28" stroke="#ff30ff" stroke-width="1.0" fill="none" clip-path="url(#cb)"/>
<path d="M116.50 566.00 L118.77 566.00 L118.77 565.97 L123.25 565.97 L123.25 565.97 L127.73 565.97 L127.73 565.97 L132.21 565.97 L132.21 565.97 L136.70 565.97 L136.70 565.97 L141.18 565.97 L141.18 565.97 L145.66 565.97 L145.66 565.97 L150.14 565.97 L150.14 565.97 L154.63 565.97 L154.63 565.97 L159.11 565.97 L159.11 565.97 L163.59 565.97 L163.59 565.97 L168.07 565.97 L168.07 565.97 L172.55 565.97 L172.55 565.97 L177.04 565.97 L177.04 565.97 L181.52 565.97 L181.52 565.97 L186.00 565.97 L186.00 565.97 L190.48 565.97 L190.48 565.97 L194.97 565.97 L194.97 565.97 L199.45 565.97 L199.45 565.97 L203.93 565.97 L203.93 565.97 L208.41 565.97 L208.41 565.97 L212.89 565.97 L212.89 565.97 L217.38 565.97 L217.38 565.97 L221.86 565.97 L221.86 565.97 L226.34 565.97 L226.34 565.97 L230.82 565.97 L230.82 565.97 L235.30 565.97 L235.30 565.97 L239.79 565.97 L239.79 565.97 L244.27 565.97 L244.27 565.97 L248.75 565.97 L248.75 565.97 L253.23 565.97 L253.23 565.97 L257.72 565.97 L257.72 565.97 L262.20 565.97 L262.20 565.97 L266.68 565.97 L266.68 565.97 L271.16 565.97 L271.16 565.97 L275.64 565.97 L275.64 565.97 L280.13 565.97 L280.13 565.97 L284.61 565.97 L284.61 565.97 L289.09 565.97 L289.09 565.97 L293.57 565.97 L293.57 565.97 L298.06 565.97 L298.06 565.97 L302.54 565.97 L302.54 565.97 L307.02 565.97 L307.02 565.97 L311.50 565.97 L311.50 565.97 L315.98 565.97 L315.98 565.97 L320.47 565.97 L320.47 565.97 L324.95 565.97 L324.95 565.97 L329.43 565.97 L329.43 565.81 L333.91 565.81 L333.91 565.64 L338.40 565.64 L338.40 565.64 L342.88 565.64 L342.88 565.47 L347.36 565.47 L347.36 565.30 L351.84 565.30 L351.84 564.97 L356.32 564.97 L356.32 564.46 L360.81 564.46 L360.81 563.62 L365.29 563.62 L365.29 562.11 L369.77 562.11 L369.77 559.60 L374.25 559.60 L374.25 556.74 L378.74 556.74 L378.74 552.89 L383.22 552.89 L383.22 548.36 L387.70 548.36 L387.70 544.83 L392.18 544.83 L392.18 542.32 L396.66 542.32 L396.66 540.81 L401.15 540.81 L401.15 540.64 L405.63 540.64 L405.63 541.64 L410.11 541.64 L410.11 542.82 L414.59 542.82 L414.59 543.99 L419.08 543.99 L419.08 544.83 L423.56 544.83 L423.56 546.17 L428.04 546.17 L428.04 548.69 L432.52 548.69 L432.52 550.37 L437.00 550.37 L437.00 554.06 L441.49 554.06 L441.49 556.74 L445.97 556.74 L445.97 557.08 L450.45 557.08 L450.45 555.74 L454.93 555.74 L454.93 552.05 L459.41 552.05 L459.41 547.85 L463.90 547.85 L463.90 544.50 L468.38 544.50 L468.38 542.82 L472.86 542.82 L472.86 543.99 L477.34 543.99 L477.34 546.17 L481.83 546.17 L481.83 550.37 L486.31 550.37 L486.31 554.56 L490.79 554.56 L490.79 558.42 L495.27 558.42 L495.27 561.78 L499.75 561.78 L499.75 563.79 L504.24 563.79 L504.24 564.63 L508.72 564.63 L508.72 564.63 L513.20 564.63 L513.20 563.79 L517.68 563.79 L517.68 562.11 L522.17 562.11 L522.17 558.76 L526.65 558.76 L526.65 554.06 L531.13 554.06 L531.13 548.69 L535.61 548.69 L535.61 543.32 L540.09 543.32 L540.09 538.96 L544.58 538.96 L544.58 536.95 L549.06 536.95 L549.06 537.79 L553.54 537.79 L553.54 541.98 L558.02 541.98 L558.02 547.85 L562.51 547.85 L562.51 553.72 L566.99 553.72 L566.99 558.42 L571.47 558.42 L571.47 561.78 L575.95 561.78 L575.95 563.79 L580.43 563.79 L580.43 564.80 L584.92 564.80 L584.92 565.47 L589.40 565.47 L589.40 565.81 L593.88 565.81 L593.88 565.97 L598.36 565.97 L598.36 565.97 L602.85 565.97 L602.85 565.97 L607.33 565.97 L607.33 565.97 L611.81 565.97 L611.81 565.64 L616.29 565.64 L616.29 565.47 L620.77 565.47 L620.77 565.13 L625.26 565.13 L625.26 564.63 L629.74 564.63 L629.74 563.79 L634.22 563.79 L634.22 562.11 L638.70 562.11 L638.70 558.76 L643.19 558.76 L643.19 553.72 L647.67 553.72 L647.67 547.35 L652.15 547.35 L652.15 539.97 L656.63 539.97 L656.63 533.26 L661.11 533.26 L661.11 529.73 L665.60 529.73 L665.60 529.73 L670.08 529.73 L670.08 533.26 L674.56 533.26 L674.56 539.97 L679.04 539.97 L679.04 548.36 L683.52 548.36 L683.52 554.56 L688.01 554.56 L688.01 559.60 L692.49 559.60 L692.49 562.95 L696.97 562.95 L696.97 564.63 L701.45 564.63 L701.45 565.47 L705.94 565.47 L705.94 565.97 L710.42 565.97 L710.42 565.97 L714.90 565.97 L714.90 565.97 L719.38 565.97 L719.38 565.97 L723.86 565.97 L723.86 565.97 L728.35 565.97 L728.35 565.97 L732.83 565.97 L732.83 565.97 L737.31 565.97 L737.31 565.97 L741.79 565.97 L741.79 565.97 L746.28 565.97 L746.28 565.97 L750.76 565.97 L750.76 565.97 L755.24 565.97 L755.24 565.97 L759.72 565.97 L759.72 565.97 L764.20 565.97 L764.20 565.97 L768.69 565.97 L768.69 565.97 L773.17 565.97 L773.17 565.97 L777.65 565.97 L777.65 565.97 L782.13 565.97 L782.13 565.97 L786.62 565.97 L786.62 565.97 L791.10 565.97 L791.10 565.64 L795.58 565.64 L795.58 565.47 L800.06 565.47 L800.06 565.13 L804.54 565.13 L804.54 564.80 L809.03 564.80 L809.03 564.13 L813.51 564.13 L813.51 562.11 L817.99 562.11 L817.99 558.76 L822.47 558.76 L822.47 553.72 L826.96 553.72 L826.96 547.01 L831.44 547.01 L831.44 537.79 L835.92 537.79 L835.92 529.40 L840.40 529.40 L840.40 523.52 L844.88 523.52 L844.88 521.51 L849.37 521.51 L849.37 524.87 L853.85 524.87 L853.85 531.07 L858.33 531.07 L858.33 540.30 L862.81 540.30 L862.81 548.69 L867.30 548.69 L867.30 555.40 L871.78 555.40 L871.78 560.10 L876.26 560.10 L876.26 562.95 L880.74 562.95 L880.74 564.63 L885.22 564.63 L885.22 565.47 L889.71 565.47 L889.71 565.97 L894.19 565.97 L894.19 565.97 L898.67 565.97 L898.67 565.97 L903.15 565.97 L903.15 565.97 L907.63 565.97 L907.63 565.97 L912.12 565.97 L912.12 565.97 L916.60 565.97 L916.60 565.97 L921.08 565.97 L921.08 565.97 L925.56 565.97 L925.56 565.97 L930.05 565.97 L930.05 565.97 L934.53 565.97 L934.53 565.97 L939.01 565.97 L939.01 565.97 L943.49 565.97 L943.49 565.97 L947.97 565.97 L947.97 565.97 L952.46 565.97 L952.46 565.97 L956.94 565.97 L956.94 565.97 L961.42 565.97 L961.42 565.97 L965.90 565.97 L965.90 565.97 L970.39 565.97 L970.39 565.97 L974.87 565.97 L974.87 565.97 L977.50 565.97" stroke="#ff0000" stroke-width="1.9" fill="none" clip-path="url(#cb)"/>
<path d="M59.70 13.81 L56.78 14.80 L54.83 17.75 L53.86 22.68 L53.86 25.63 L54.83 30.56 L56.78 33.51 L59.70 34.50 L61.65 34.50 L64.57 33.51 L66.51 30.56 L67.49 25.63 L67.49 22.68 L66.51 17.75 L64.57 14.80 L61.65 13.81 L59.70 13.81M59.70 13.81 L57.75 14.80 L56.78 15.78 L55.81 17.75 L54.83 22.68 L54.83 25.63 L55.81 30.56 L56.78 32.53 L57.75 33.51 L59.70 34.50M61.65 34.50 L63.59 33.51 L64.57 32.53 L65.54 30.56 L66.51 25.63 L66.51 22.68 L65.54 17.75 L64.57 15.78 L63.59 14.80 L61.65 13.81M75.27 32.53 L74.30 33.51 L75.27 34.50 L76.24 33.51 L75.27 32.53M74.78 33.51 L75.76 33.51M75.27 33.02 L75.27 34.01M84.03 17.75 L85.00 18.74 L84.03 19.72 L83.06 18.74 L83.06 17.75 L84.03 15.78 L85.00 14.80 L87.92 13.81 L91.81 13.81 L94.73 14.80 L95.71 15.78 L96.68 17.75 L96.68 19.72 L95.71 21.69 L92.79 23.66 L87.92 25.63 L85.98 26.62 L84.03 28.59 L83.06 31.54 L83.06 34.50M91.81 13.81 L93.76 14.80 L94.73 15.78 L95.71 17.75 L95.71 19.72 L94.73 21.69 L91.81 23.66 L87.92 25.63M83.06 32.53 L84.03 31.54 L85.98 31.54 L90.84 33.51 L93.76 33.51 L95.71 32.53 L96.68 31.54M85.98 31.54 L90.84 34.50 L94.73 34.50 L95.71 33.51 L96.68 31.54 L96.68 29.57M59.70 79.21 L56.78 80.20 L54.83 83.15 L53.86 88.08 L53.86 91.03 L54.83 95.96 L56.78 98.91 L59.70 99.90 L61.65 99.90 L64.57 98.91 L66.51 95.96 L67.49 91.03 L67.49 88.08 L66.51 83.15 L64.57 80.20 L61.65 79.21 L59.70 79.21M59.70 79.21 L57.75 80.20 L56.78 81.18 L55.81 83.15 L54.83 88.08 L54.83 91.03 L55.81 95.96 L56.78 97.93 L57.75 98.91 L59.70 99.90M61.65 99.90 L63.59 98.91 L64.57 97.93 L65.54 95.96 L66.51 91.03 L66.51 88.08 L65.54 83.15 L64.57 81.18 L63.59 80.20 L61.65 79.21M75.27 97.93 L74.30 98.91 L75.27 99.90 L76.24 98.91 L75.27 97.93M74.78 98.91 L75.76 98.91M75.27 98.42 L75.27 99.41M85.98 83.15 L87.92 82.17 L90.84 79.21 L90.84 99.90M89.87 80.20 L89.87 99.90M85.98 99.90 L94.73 99.90M88.90 144.61 L85.98 145.60 L84.03 148.55 L83.06 153.48 L83.06 156.43 L84.03 161.36 L85.98 164.31 L88.90 165.30 L90.84 165.30 L93.76 164.31 L95.71 161.36 L96.68 156.43 L96.68 153.48 L95.71 148.55 L93.76 145.60 L90.84 144.61 L88.90 144.61M88.90 144.61 L86.95 145.60 L85.98 146.58 L85.00 148.55 L84.03 153.48 L84.03 156.43 L85.00 161.36 L85.98 163.33 L86.95 164.31 L88.90 165.30M90.84 165.30 L92.79 164.31 L93.76 163.33 L94.73 161.36 L95.71 156.43 L95.71 153.48 L94.73 148.55 L93.76 146.58 L92.79 145.60 L90.84 144.61M29.53 221.83 L47.05 221.83M59.70 210.01 L56.78 211.00 L54.83 213.95 L53.86 218.88 L53.86 221.83 L54.83 226.76 L56.78 229.71 L59.70 230.70 L61.65 230.70 L64.57 229.71 L66.51 226.76 L67.49 221.83 L67.49 218.88 L66.51 213.95 L64.57 211.00 L61.65 210.01 L59.70 210.01M59.70 210.01 L57.75 211.00 L56.78 211.98 L55.81 213.95 L54.83 218.88 L54.83 221.83 L55.81 226.76 L56.78 228.73 L57.75 229.71 L59.70 230.70M61.65 230.70 L63.59 229.71 L64.57 228.73 L65.54 226.76 L66.51 221.83 L66.51 218.88 L65.54 213.95 L64.57 211.98 L63.59 211.00 L61.65 210.01M75.27 228.73 L74.30 229.71 L75.27 230.70 L76.24 229.71 L75.27 228.73M74.78 229.71 L75.76 229.71M75.27 229.22 L75.27 230.21M85.98 213.95 L87.92 212.97 L90.84 210.01 L90.84 230.70M89.87 211.00 L89.87 230.70M85.98 230.70 L94.73 230.70M59.70 292.42 L56.78 293.40 L54.83 296.36 L53.86 301.28 L53.86 304.24 L54.83 309.16 L56.78 312.12 L59.70 313.10 L61.65 313.10 L64.57 312.12 L66.51 309.16 L67.49 304.24 L67.49 301.28 L66.51 296.36 L64.57 293.40 L61.65 292.42 L59.70 292.42M59.70 292.42 L57.75 293.40 L56.78 294.39 L55.81 296.36 L54.83 301.28 L54.83 304.24 L55.81 309.16 L56.78 311.13 L57.75 312.12 L59.70 313.10M61.65 313.10 L63.59 312.12 L64.57 311.13 L65.54 309.16 L66.51 304.24 L66.51 301.28 L65.54 296.36 L64.57 294.39 L63.59 293.40 L61.65 292.42M75.27 311.13 L74.30 312.12 L75.27 313.10 L76.24 312.12 L75.27 311.13M74.78 312.12 L75.76 312.12M75.27 311.62 L75.27 312.61M91.81 294.39 L91.81 313.10M92.79 292.42 L92.79 313.10M92.79 292.42 L82.08 307.19 L97.65 307.19M88.90 313.10 L95.71 313.10M59.70 423.42 L56.78 424.40 L54.83 427.36 L53.86 432.28 L53.86 435.24 L54.83 440.16 L56.78 443.12 L59.70 444.10 L61.65 444.10 L64.57 443.12 L66.51 440.16 L67.49 435.24 L67.49 432.28 L66.51 427.36 L64.57 424.40 L61.65 423.42 L59.70 423.42M59.70 423.42 L57.75 424.40 L56.78 425.39 L55.81 427.36 L54.83 432.28 L54.83 435.24 L55.81 440.16 L56.78 442.13 L57.75 443.12 L59.70 444.10M61.65 444.10 L63.59 443.12 L64.57 442.13 L65.54 440.16 L66.51 435.24 L66.51 432.28 L65.54 427.36 L64.57 425.39 L63.59 424.40 L61.65 423.42M75.27 442.13 L74.30 443.12 L75.27 444.10 L76.24 443.12 L75.27 442.13M74.78 443.12 L75.76 443.12M75.27 442.62 L75.27 443.61M84.03 427.36 L85.00 428.34 L84.03 429.33 L83.06 428.34 L83.06 427.36 L84.03 425.39 L85.00 424.40 L87.92 423.42 L91.81 423.42 L94.73 424.40 L95.71 425.39 L96.68 427.36 L96.68 429.33 L95.71 431.30 L92.79 433.27 L87.92 435.24 L85.98 436.22 L84.03 438.19 L83.06 441.15 L83.06 444.10M91.81 423.42 L93.76 424.40 L94.73 425.39 L95.71 427.36 L95.71 429.33 L94.73 431.30 L91.81 433.27 L87.92 435.24M83.06 442.13 L84.03 441.15 L85.98 441.15 L90.84 443.12 L93.76 443.12 L95.71 442.13 L96.68 441.15M85.98 441.15 L90.84 444.10 L94.73 444.10 L95.71 443.12 L96.68 441.15 L96.68 439.18M88.90 554.42 L85.98 555.40 L84.03 558.36 L83.06 563.28 L83.06 566.24 L84.03 571.16 L85.98 574.12 L88.90 575.10 L90.84 575.10 L93.76 574.12 L95.71 571.16 L96.68 566.24 L96.68 563.28 L95.71 558.36 L93.76 555.40 L90.84 554.42 L88.90 554.42M88.90 554.42 L86.95 555.40 L85.98 556.38 L85.00 558.36 L84.03 563.28 L84.03 566.24 L85.00 571.16 L85.98 573.13 L86.95 574.12 L88.90 575.10M90.84 575.10 L92.79 574.12 L93.76 573.13 L94.73 571.16 L95.71 566.24 L95.71 563.28 L94.73 558.36 L93.76 556.38 L92.79 555.40 L90.84 554.42M173.18 661.31 L172.20 664.26 L170.26 666.24 L167.34 667.22 L166.37 667.22 L163.45 666.24 L161.50 664.26 L160.53 661.31 L160.53 660.33 L161.50 657.37 L163.45 655.40 L166.37 654.42 L168.31 654.42 L171.23 655.40 L173.18 657.37 L174.15 660.33 L174.15 666.24 L173.18 670.18 L172.20 672.14 L170.26 674.12 L167.34 675.10 L164.42 675.10 L162.47 674.12 L161.50 672.14 L161.50 671.16 L162.47 670.18 L163.45 671.16 L162.47 672.14M166.37 667.22 L164.42 666.24 L162.47 664.26 L161.50 661.31 L161.50 660.33 L162.47 657.37 L164.42 655.40 L166.37 654.42M168.31 654.42 L170.26 655.40 L172.20 657.37 L173.18 660.33 L173.18 666.24 L172.20 670.18 L171.23 672.14 L169.29 674.12 L167.34 675.10M180.96 658.36 L181.94 659.34 L180.96 660.33 L179.99 659.34 L179.99 658.36 L180.96 656.38 L181.94 655.40 L184.86 654.42 L188.75 654.42 L191.67 655.40 L192.64 657.37 L192.64 660.33 L191.67 662.30 L188.75 663.28 L185.83 663.28M188.75 654.42 L190.70 655.40 L191.67 657.37 L191.67 660.33 L190.70 662.30 L188.75 663.28M188.75 663.28 L190.70 664.26 L192.64 666.24 L193.61 668.21 L193.61 671.16 L192.64 673.13 L191.67 674.12 L188.75 675.10 L184.86 675.10 L181.94 674.12 L180.96 673.13 L179.99 671.16 L179.99 670.18 L180.96 669.19 L181.94 670.18 L180.96 671.16M191.67 665.25 L192.64 668.21 L192.64 671.16 L191.67 673.13 L190.70 674.12 L188.75 675.10M201.40 673.13 L200.43 674.12 L201.40 675.10 L202.37 674.12 L201.40 673.13M200.91 674.12 L201.89 674.12M201.40 673.62 L201.40 674.61M210.16 658.36 L211.13 659.34 L210.16 660.33 L209.19 659.34 L209.19 658.36 L210.16 656.38 L211.13 655.40 L214.05 654.42 L217.94 654.42 L220.86 655.40 L221.84 656.38 L222.81 658.36 L222.81 660.33 L221.84 662.30 L218.92 664.26 L214.05 666.24 L212.10 667.22 L210.16 669.19 L209.19 672.14 L209.19 675.10M217.94 654.42 L219.89 655.40 L220.86 656.38 L221.84 658.36 L221.84 660.33 L220.86 662.30 L217.94 664.26 L214.05 666.24M209.19 673.13 L210.16 672.14 L212.10 672.14 L216.97 674.12 L219.89 674.12 L221.84 673.13 L222.81 672.14M212.10 672.14 L216.97 675.10 L220.86 675.10 L221.84 674.12 L222.81 672.14 L222.81 670.18M240.33 657.37 L239.35 658.36 L240.33 659.34 L241.30 658.36 L241.30 657.37 L240.33 655.40 L238.38 654.42 L235.46 654.42 L232.54 655.40 L230.60 657.37 L229.62 659.34 L228.65 663.28 L228.65 669.19 L229.62 672.14 L231.57 674.12 L234.49 675.10 L236.43 675.10 L239.35 674.12 L241.30 672.14 L242.27 669.19 L242.27 668.21 L241.30 665.25 L239.35 663.28 L236.43 662.30 L235.46 662.30 L232.54 663.28 L230.60 665.25 L229.62 668.21M235.46 654.42 L233.51 655.40 L231.57 657.37 L230.60 659.34 L229.62 663.28 L229.62 669.19 L230.60 672.14 L232.54 674.12 L234.49 675.10M236.43 675.10 L238.38 674.12 L240.33 672.14 L241.30 669.19 L241.30 668.21 L240.33 665.25 L238.38 663.28 L236.43 662.30M459.98 661.31 L459.00 664.26 L457.06 666.24 L454.14 667.22 L453.17 667.22 L450.25 666.24 L448.30 664.26 L447.33 661.31 L447.33 660.33 L448.30 657.37 L450.25 655.40 L453.17 654.42 L455.11 654.42 L458.03 655.40 L459.98 657.37 L460.95 660.33 L460.95 666.24 L459.98 670.18 L459.00 672.14 L457.06 674.12 L454.14 675.10 L451.22 675.10 L449.27 674.12 L448.30 672.14 L448.30 671.16 L449.27 670.18 L450.25 671.16 L449.27 672.14M453.17 667.22 L451.22 666.24 L449.27 664.26 L448.30 661.31 L448.30 660.33 L449.27 657.37 L451.22 655.40 L453.17 654.42M455.11 654.42 L457.06 655.40 L459.00 657.37 L459.98 660.33 L459.98 666.24 L459.00 670.18 L458.03 672.14 L456.09 674.12 L454.14 675.10M467.76 658.36 L468.74 659.34 L467.76 660.33 L466.79 659.34 L466.79 658.36 L467.76 656.38 L468.74 655.40 L471.66 654.42 L475.55 654.42 L478.47 655.40 L479.44 657.37 L479.44 660.33 L478.47 662.30 L475.55 663.28 L472.63 663.28M475.55 654.42 L477.50 655.40 L478.47 657.37 L478.47 660.33 L477.50 662.30 L475.55 663.28M475.55 663.28 L477.50 664.26 L479.44 666.24 L480.41 668.21 L480.41 671.16 L479.44 673.13 L478.47 674.12 L475.55 675.10 L471.66 675.10 L468.74 674.12 L467.76 673.13 L466.79 671.16 L466.79 670.18 L467.76 669.19 L468.74 670.18 L467.76 671.16M478.47 665.25 L479.44 668.21 L479.44 671.16 L478.47 673.13 L477.50 674.12 L475.55 675.10M488.20 673.13 L487.23 674.12 L488.20 675.10 L489.17 674.12 L488.20 673.13M487.71 674.12 L488.69 674.12M488.20 673.62 L488.20 674.61M496.96 658.36 L497.93 659.34 L496.96 660.33 L495.99 659.34 L495.99 658.36 L496.96 656.38 L497.93 655.40 L500.85 654.42 L504.74 654.42 L507.66 655.40 L508.64 656.38 L509.61 658.36 L509.61 660.33 L508.64 662.30 L505.72 664.26 L500.85 666.24 L498.90 667.22 L496.96 669.19 L495.99 672.14 L495.99 675.10M504.74 654.42 L506.69 655.40 L507.66 656.38 L508.64 658.36 L508.64 660.33 L507.66 662.30 L504.74 664.26 L500.85 666.24M495.99 673.13 L496.96 672.14 L498.90 672.14 L503.77 674.12 L506.69 674.12 L508.64 673.13 L509.61 672.14M498.90 672.14 L503.77 675.10 L507.66 675.10 L508.64 674.12 L509.61 672.14 L509.61 670.18M520.31 654.42 L517.40 655.40 L516.42 657.37 L516.42 660.33 L517.40 662.30 L520.31 663.28 L524.21 663.28 L527.13 662.30 L528.10 660.33 L528.10 657.37 L527.13 655.40 L524.21 654.42 L520.31 654.42M520.31 654.42 L518.37 655.40 L517.40 657.37 L517.40 660.33 L518.37 662.30 L520.31 663.28M524.21 663.28 L526.15 662.30 L527.13 660.33 L527.13 657.37 L526.15 655.40 L524.21 654.42M520.31 663.28 L517.40 664.26 L516.42 665.25 L515.45 667.22 L515.45 671.16 L516.42 673.13 L517.40 674.12 L520.31 675.10 L524.21 675.10 L527.13 674.12 L528.10 673.13 L529.07 671.16 L529.07 667.22 L528.10 665.25 L527.13 664.26 L524.21 663.28M520.31 663.28 L518.37 664.26 L517.40 665.25 L516.42 667.22 L516.42 671.16 L517.40 673.13 L518.37 674.12 L520.31 675.10M524.21 675.10 L526.15 674.12 L527.13 673.13 L528.10 671.16 L528.10 667.22 L527.13 665.25 L526.15 664.26 L524.21 663.28M756.51 661.31 L755.54 664.26 L753.59 666.24 L750.67 667.22 L749.70 667.22 L746.78 666.24 L744.83 664.26 L743.86 661.31 L743.86 660.33 L744.83 657.37 L746.78 655.40 L749.70 654.42 L751.64 654.42 L754.56 655.40 L756.51 657.37 L757.48 660.33 L757.48 666.24 L756.51 670.18 L755.54 672.14 L753.59 674.12 L750.67 675.10 L747.75 675.10 L745.80 674.12 L744.83 672.14 L744.83 671.16 L745.80 670.18 L746.78 671.16 L745.80 672.14M749.70 667.22 L747.75 666.24 L745.80 664.26 L744.83 661.31 L744.83 660.33 L745.80 657.37 L747.75 655.40 L749.70 654.42M751.64 654.42 L753.59 655.40 L755.54 657.37 L756.51 660.33 L756.51 666.24 L755.54 670.18 L754.56 672.14 L752.62 674.12 L750.67 675.10M764.30 658.36 L765.27 659.34 L764.30 660.33 L763.32 659.34 L763.32 658.36 L764.30 656.38 L765.27 655.40 L768.19 654.42 L772.08 654.42 L775.00 655.40 L775.97 657.37 L775.97 660.33 L775.00 662.30 L772.08 663.28 L769.16 663.28M772.08 654.42 L774.03 655.40 L775.00 657.37 L775.00 660.33 L774.03 662.30 L772.08 663.28M772.08 663.28 L774.03 664.26 L775.97 666.24 L776.95 668.21 L776.95 671.16 L775.97 673.13 L775.00 674.12 L772.08 675.10 L768.19 675.10 L765.27 674.12 L764.30 673.13 L763.32 671.16 L763.32 670.18 L764.30 669.19 L765.27 670.18 L764.30 671.16M775.00 665.25 L775.97 668.21 L775.97 671.16 L775.00 673.13 L774.03 674.12 L772.08 675.10M784.73 673.13 L783.76 674.12 L784.73 675.10 L785.70 674.12 L784.73 673.13M784.24 674.12 L785.22 674.12M784.73 673.62 L784.73 674.61M793.49 658.36 L794.46 659.34 L793.49 660.33 L792.52 659.34 L792.52 658.36 L793.49 656.38 L794.46 655.40 L797.38 654.42 L801.28 654.42 L804.20 655.40 L805.17 657.37 L805.17 660.33 L804.20 662.30 L801.28 663.28 L798.36 663.28M801.28 654.42 L803.22 655.40 L804.20 657.37 L804.20 660.33 L803.22 662.30 L801.28 663.28M801.28 663.28 L803.22 664.26 L805.17 666.24 L806.14 668.21 L806.14 671.16 L805.17 673.13 L804.20 674.12 L801.28 675.10 L797.38 675.10 L794.46 674.12 L793.49 673.13 L792.52 671.16 L792.52 670.18 L793.49 669.19 L794.46 670.18 L793.49 671.16M804.20 665.25 L805.17 668.21 L805.17 671.16 L804.20 673.13 L803.22 674.12 L801.28 675.10M373.60 687.72 L373.60 708.40M374.57 687.72 L374.57 708.40M370.68 687.72 L382.36 687.72 L385.28 688.70 L386.25 689.68 L387.23 691.65 L387.23 693.62 L386.25 695.60 L385.28 696.58 L382.36 697.56 L374.57 697.56M382.36 687.72 L384.31 688.70 L385.28 689.68 L386.25 691.65 L386.25 693.62 L385.28 695.60 L384.31 696.58 L382.36 697.56M370.68 708.40 L377.49 708.40M379.44 697.56 L381.39 698.55 L382.36 699.53 L385.28 706.43 L386.25 707.41 L387.23 707.41 L388.20 706.43M381.39 698.55 L382.36 700.52 L384.31 707.41 L385.28 708.40 L387.23 708.40 L388.20 706.43 L388.20 705.44M394.04 700.52 L405.72 700.52 L405.72 698.55 L404.74 696.58 L403.77 695.60 L401.82 694.61 L398.90 694.61 L395.98 695.60 L394.04 697.56 L393.06 700.52 L393.06 702.49 L394.04 705.44 L395.98 707.41 L398.90 708.40 L400.85 708.40 L403.77 707.41 L405.72 705.44M404.74 700.52 L404.74 697.56 L403.77 695.60M398.90 694.61 L396.96 695.60 L395.01 697.56 L394.04 700.52 L394.04 702.49 L395.01 705.44 L396.96 707.41 L398.90 708.40M421.29 696.58 L422.26 694.61 L422.26 698.55 L421.29 696.58 L420.31 695.60 L418.37 694.61 L414.47 694.61 L412.53 695.60 L411.55 696.58 L411.55 698.55 L412.53 699.53 L414.47 700.52 L419.34 702.49 L421.29 703.48 L422.26 704.46M411.55 697.56 L412.53 698.55 L414.47 699.53 L419.34 701.50 L421.29 702.49 L422.26 703.48 L422.26 706.43 L421.29 707.41 L419.34 708.40 L415.45 708.40 L413.50 707.41 L412.53 706.43 L411.55 704.46 L411.55 708.40 L412.53 706.43M430.05 687.72 L430.05 704.46 L431.02 707.41 L432.96 708.40 L434.91 708.40 L436.86 707.41 L437.83 705.44M431.02 687.72 L431.02 704.46 L431.99 707.41 L432.96 708.40M427.13 694.61 L434.91 694.61M465.08 688.70 L464.11 689.68 L465.08 690.67 L466.05 689.68 L466.05 688.70 L465.08 687.72 L463.13 687.72 L461.19 688.70 L460.21 690.67 L460.21 708.40M463.13 687.72 L462.16 688.70 L461.19 690.67 L461.19 708.40M457.29 694.61 L465.08 694.61M457.29 708.40 L464.11 708.40M472.87 694.61 L472.87 708.40M473.84 694.61 L473.84 708.40M473.84 700.52 L474.81 697.56 L476.76 695.60 L478.70 694.61 L481.62 694.61 L482.60 695.60 L482.60 696.58 L481.62 697.56 L480.65 696.58 L481.62 695.60M469.95 694.61 L473.84 694.61M469.95 708.40 L476.76 708.40M488.44 700.52 L500.11 700.52 L500.11 698.55 L499.14 696.58 L498.17 695.60 L496.22 694.61 L493.30 694.61 L490.38 695.60 L488.44 697.56 L487.46 700.52 L487.46 702.49 L488.44 705.44 L490.38 707.41 L493.30 708.40 L495.25 708.40 L498.17 707.41 L500.11 705.44M499.14 700.52 L499.14 697.56 L498.17 695.60M493.30 694.61 L491.36 695.60 L489.41 697.56 L488.44 700.52 L488.44 702.49 L489.41 705.44 L491.36 707.41 L493.30 708.40M517.63 694.61 L517.63 715.29M518.60 694.61 L518.60 715.29M517.63 697.56 L515.69 695.60 L513.74 694.61 L511.79 694.61 L508.87 695.60 L506.93 697.56 L505.95 700.52 L505.95 702.49 L506.93 705.44 L508.87 707.41 L511.79 708.40 L513.74 708.40 L515.69 707.41 L517.63 705.44M511.79 694.61 L509.85 695.60 L507.90 697.56 L506.93 700.52 L506.93 702.49 L507.90 705.44 L509.85 707.41 L511.79 708.40M514.71 715.29 L521.52 715.29M527.36 694.61 L527.36 705.44 L528.34 707.41 L531.26 708.40 L533.20 708.40 L536.12 707.41 L538.07 705.44M528.34 694.61 L528.34 705.44 L529.31 707.41 L531.26 708.40M538.07 694.61 L538.07 708.40M539.04 694.61 L539.04 708.40M524.44 694.61 L528.34 694.61M535.15 694.61 L539.04 694.61M538.07 708.40 L541.96 708.40M547.80 700.52 L559.48 700.52 L559.48 698.55 L558.50 696.58 L557.53 695.60 L555.59 694.61 L552.67 694.61 L549.75 695.60 L547.80 697.56 L546.83 700.52 L546.83 702.49 L547.80 705.44 L549.75 707.41 L552.67 708.40 L554.61 708.40 L557.53 707.41 L559.48 705.44M558.50 700.52 L558.50 697.56 L557.53 695.60M552.67 694.61 L550.72 695.60 L548.77 697.56 L547.80 700.52 L547.80 702.49 L548.77 705.44 L550.72 707.41 L552.67 708.40M567.26 694.61 L567.26 708.40M568.24 694.61 L568.24 708.40M568.24 697.56 L570.18 695.60 L573.10 694.61 L575.05 694.61 L577.97 695.60 L578.94 697.56 L578.94 708.40M575.05 694.61 L577.00 695.60 L577.97 697.56 L577.97 708.40M564.34 694.61 L568.24 694.61M564.34 708.40 L571.16 708.40M575.05 708.40 L581.86 708.40M598.41 697.56 L597.43 698.55 L598.41 699.53 L599.38 698.55 L599.38 697.56 L597.43 695.60 L595.49 694.61 L592.57 694.61 L589.65 695.60 L587.70 697.56 L586.73 700.52 L586.73 702.49 L587.70 705.44 L589.65 707.41 L592.57 708.40 L594.51 708.40 L597.43 707.41 L599.38 705.44M592.57 694.61 L590.62 695.60 L588.67 697.56 L587.70 700.52 L587.70 702.49 L588.67 705.44 L590.62 707.41 L592.57 708.40M606.19 694.61 L612.03 708.40M607.16 694.61 L612.03 706.43M617.87 694.61 L612.03 708.40 L610.08 712.34 L608.14 714.31 L606.19 715.29 L605.22 715.29 L604.24 714.31 L605.22 713.32 L606.19 714.31M604.24 694.61 L610.08 694.61M613.98 694.61 L619.82 694.61M647.06 683.77 L645.12 685.75 L643.17 688.70 L641.23 692.64 L640.25 697.56 L640.25 701.50 L641.23 706.43 L643.17 710.37 L645.12 713.32 L647.06 715.29M645.12 685.75 L643.17 689.68 L642.20 692.64 L641.23 697.56 L641.23 701.50 L642.20 706.43 L643.17 709.38 L645.12 713.32M666.53 690.67 L667.50 693.62 L667.50 687.72 L666.53 690.67 L664.58 688.70 L661.66 687.72 L659.72 687.72 L656.80 688.70 L654.85 690.67 L653.88 692.64 L652.90 695.60 L652.90 700.52 L653.88 703.48 L654.85 705.44 L656.80 707.41 L659.72 708.40 L661.66 708.40 L664.58 707.41 L666.53 705.44M659.72 687.72 L657.77 688.70 L655.82 690.67 L654.85 692.64 L653.88 695.60 L653.88 700.52 L654.85 703.48 L655.82 705.44 L657.77 707.41 L659.72 708.40M666.53 700.52 L666.53 708.40M667.50 700.52 L667.50 708.40M663.61 700.52 L670.42 700.52M677.23 687.72 L677.23 708.40M678.21 687.72 L678.21 708.40M689.88 687.72 L689.88 708.40M690.86 687.72 L690.86 708.40M674.31 687.72 L681.13 687.72M686.96 687.72 L693.78 687.72M678.21 697.56 L689.88 697.56M674.31 708.40 L681.13 708.40M686.96 708.40 L693.78 708.40M709.35 694.61 L698.64 708.40M710.32 694.61 L699.62 708.40M699.62 694.61 L698.64 698.55 L698.64 694.61 L710.32 694.61M698.64 708.40 L710.32 708.40 L710.32 704.46 L709.35 708.40M716.16 683.77 L718.11 685.75 L720.05 688.70 L722.00 692.64 L722.97 697.56 L722.97 701.50 L722.00 706.43 L720.05 710.37 L718.11 713.32 L716.16 715.29M718.11 685.75 L720.05 689.68 L721.03 692.64 L722.00 697.56 L722.00 701.50 L721.03 706.43 L720.05 709.38 L718.11 713.32M1.91 486.53 L22.60 486.53M1.91 485.58 L22.60 485.58M1.91 492.22 L7.82 493.16 L1.91 493.16 L1.91 478.95 L7.82 478.95 L1.91 479.90M22.60 489.37 L22.60 482.74M21.42 473.50 L31.76 473.50M21.42 472.79 L31.76 472.79M23.63 472.79 L22.16 471.37 L21.42 469.24 L21.42 467.82 L22.16 465.69 L23.63 464.97 L31.76 464.97M21.42 467.82 L22.16 466.40 L23.63 465.69 L31.76 465.69M23.63 464.97 L22.16 463.55 L21.42 461.42 L21.42 460.00 L22.16 457.87 L23.63 457.16 L31.76 457.16M21.42 460.00 L22.16 458.58 L23.63 457.87 L31.76 457.87M21.42 475.63 L21.42 472.79M31.76 475.63 L31.76 470.66M31.76 467.82 L31.76 462.84M31.76 460.00 L31.76 455.03M16.25 450.05 L31.76 450.05M16.25 449.34 L31.76 449.34M23.63 449.34 L22.16 447.92 L21.42 446.50 L21.42 445.08 L22.16 442.94 L23.63 441.52 L25.85 440.81 L27.33 440.81 L29.54 441.52 L31.02 442.94 L31.76 445.08 L31.76 446.50 L31.02 447.92 L29.54 449.34M21.42 445.08 L22.16 443.65 L23.63 442.23 L25.85 441.52 L27.33 441.52 L29.54 442.23 L31.02 443.65 L31.76 445.08M16.25 452.18 L16.25 449.34M-2.02 413.10 L-0.05 414.99 L2.90 416.89 L6.84 418.78 L11.77 419.73 L15.71 419.73 L20.63 418.78 L24.57 416.89 L27.53 414.99 L29.50 413.10M-0.05 414.99 L3.89 416.89 L6.84 417.83 L11.77 418.78 L15.71 418.78 L20.63 417.83 L23.59 416.89 L27.53 414.99M1.92 405.51 L22.60 405.51M1.92 404.57 L22.60 404.57M1.92 392.25 L14.72 404.57M10.78 399.83 L22.60 392.25M10.78 400.78 L22.60 393.20M1.92 408.36 L1.92 401.72M1.92 396.04 L1.92 390.35M22.60 408.36 L22.60 401.72M22.60 396.04 L22.60 390.35M-2.02 386.56 L-0.05 384.67 L2.90 382.77 L6.84 380.88 L11.77 379.93 L15.71 379.93 L20.63 380.88 L24.57 382.77 L27.53 384.67 L29.50 386.56M-0.05 384.67 L3.89 382.77 L6.84 381.83 L11.77 380.88 L15.71 380.88 L20.63 381.83 L23.59 382.77 L27.53 384.67" stroke="#000" stroke-width="0.8" fill="none" stroke-linecap="round" stroke-linejoin="round"/>
<path d="M150.30 34.56 L150.30 60.50M151.56 34.56 L159.12 56.80M150.30 34.56 L159.12 60.50M167.93 34.56 L159.12 60.50M167.93 34.56 L167.93 60.50M169.19 34.56 L169.19 60.50M146.52 34.56 L151.56 34.56M167.93 34.56 L172.97 34.56M146.52 60.50 L154.08 60.50M164.16 60.50 L172.97 60.50M150.30 273.26 L150.30 299.20M151.56 273.26 L166.67 296.73M151.56 275.74 L166.67 299.20M166.67 273.26 L166.67 299.20M146.52 273.26 L151.56 273.26M162.90 273.26 L170.45 273.26M146.52 299.20 L154.08 299.20M928.69 34.56 L928.69 41.97M928.69 39.50 L929.94 37.03 L932.46 34.56 L934.98 34.56 L941.28 38.27 L943.80 38.27 L945.06 37.03 L946.32 34.56M929.94 37.03 L932.46 35.80 L934.98 35.80 L941.28 38.27M946.32 34.56 L946.32 38.27 L945.06 41.97 L940.02 48.15 L938.76 50.62 L937.50 54.33 L937.50 60.50M945.06 41.97 L938.76 48.15 L937.50 50.62 L936.24 54.33 L936.24 60.50" stroke="#1a1a1a" stroke-width="0.75" fill="none" stroke-linecap="round" stroke-linejoin="round"/>
<path d="M440.54 249.46 L440.54 270.15M441.51 249.46 L441.51 270.15M447.38 255.37 L447.38 263.25M437.60 249.46 L453.24 249.46 L453.24 255.37 L452.26 249.46M441.51 259.31 L447.38 259.31M437.60 270.15 L453.24 270.15 L453.24 264.24 L452.26 270.15M461.06 249.46 L461.06 266.21 L462.03 269.16 L463.99 270.15 L465.94 270.15 L467.89 269.16 L468.87 267.19M462.03 249.46 L462.03 266.21 L463.01 269.16 L463.99 270.15M458.12 256.36 L465.94 256.36M480.60 249.46 L477.67 250.45 L475.71 252.42 L474.73 254.39 L473.76 258.33 L473.76 261.28 L474.73 265.22 L475.71 267.19 L477.67 269.16 L480.60 270.15 L482.55 270.15 L485.48 269.16 L487.44 267.19 L488.41 265.22 L489.39 261.28 L489.39 258.33 L488.41 254.39 L487.44 252.42 L485.48 250.45 L482.55 249.46 L480.60 249.46M480.60 249.46 L478.64 250.45 L476.69 252.42 L475.71 254.39 L474.73 258.33 L474.73 261.28 L475.71 265.22 L476.69 267.19 L478.64 269.16 L480.60 270.15M482.55 270.15 L484.51 269.16 L486.46 267.19 L487.44 265.22 L488.41 261.28 L488.41 258.33 L487.44 254.39 L486.46 252.42 L484.51 250.45 L482.55 249.46M508.93 252.42 L509.91 255.37 L509.91 249.46 L508.93 252.42 L506.98 250.45 L504.05 249.46 L502.09 249.46 L499.16 250.45 L497.21 252.42 L496.23 254.39 L495.25 257.34 L495.25 262.27 L496.23 265.22 L497.21 267.19 L499.16 269.16 L502.09 270.15 L504.05 270.15 L506.98 269.16 L508.93 267.19 L509.91 265.22M502.09 249.46 L500.14 250.45 L498.19 252.42 L497.21 254.39 L496.23 257.34 L496.23 262.27 L497.21 265.22 L498.19 267.19 L500.14 269.16 L502.09 270.15M517.73 249.46 L517.73 270.15M518.71 249.46 L518.71 270.15M530.43 249.46 L530.43 270.15M531.41 249.46 L531.41 270.15M514.80 249.46 L521.64 249.46M527.50 249.46 L534.34 249.46M518.71 259.31 L530.43 259.31M514.80 270.15 L521.64 270.15M527.50 270.15 L534.34 270.15M546.06 249.46 L543.13 250.45 L541.18 252.42 L540.20 254.39 L539.22 258.33 L539.22 261.28 L540.20 265.22 L541.18 267.19 L543.13 269.16 L546.06 270.15 L548.02 270.15 L550.95 269.16 L552.90 267.19 L553.88 265.22 L554.86 261.28 L554.86 258.33 L553.88 254.39 L552.90 252.42 L550.95 250.45 L548.02 249.46 L546.06 249.46M546.06 249.46 L544.11 250.45 L542.16 252.42 L541.18 254.39 L540.20 258.33 L540.20 261.28 L541.18 265.22 L542.16 267.19 L544.11 269.16 L546.06 270.15M548.02 270.15 L549.97 269.16 L551.93 267.19 L552.90 265.22 L553.88 261.28 L553.88 258.33 L552.90 254.39 L551.93 252.42 L549.97 250.45 L548.02 249.46M561.70 261.28 L579.29 261.28M588.08 258.33 L588.08 259.31 L587.10 259.31 L587.10 258.33 L588.08 257.34 L590.03 256.36 L593.94 256.36 L595.90 257.34 L596.87 258.33 L597.85 260.30 L597.85 267.19 L598.83 269.16 L599.81 270.15M596.87 258.33 L596.87 267.19 L597.85 269.16 L599.81 270.15 L600.78 270.15M596.87 260.30 L595.90 261.28 L590.03 262.27 L587.10 263.25 L586.13 265.22 L586.13 267.19 L587.10 269.16 L590.03 270.15 L592.97 270.15 L594.92 269.16 L596.87 267.19M590.03 262.27 L588.08 263.25 L587.10 265.22 L587.10 267.19 L588.08 269.16 L590.03 270.15M621.30 249.46 L621.30 255.37M621.30 253.40 L622.28 251.43 L624.23 249.46 L626.19 249.46 L631.07 252.42 L633.03 252.42 L634.01 251.43 L634.98 249.46M622.28 251.43 L624.23 250.45 L626.19 250.45 L631.07 252.42M634.98 249.46 L634.98 252.42 L634.01 255.37 L630.10 260.30 L629.12 262.27 L628.14 265.22 L628.14 270.15M634.01 255.37 L629.12 260.30 L628.14 262.27 L627.17 265.22 L627.17 270.15M641.82 253.40 L642.80 254.39 L641.82 255.37 L640.85 254.39 L640.85 253.40 L641.82 251.43 L642.80 250.45 L645.73 249.46 L649.64 249.46 L652.57 250.45 L653.55 252.42 L653.55 255.37 L652.57 257.34 L649.64 258.33 L646.71 258.33M649.64 249.46 L651.59 250.45 L652.57 252.42 L652.57 255.37 L651.59 257.34 L649.64 258.33M649.64 258.33 L651.59 259.31 L653.55 261.28 L654.52 263.25 L654.52 266.21 L653.55 268.18 L652.57 269.16 L649.64 270.15 L645.73 270.15 L642.80 269.16 L641.82 268.18 L640.85 266.21 L640.85 265.22 L641.82 264.24 L642.80 265.22 L641.82 266.21M652.57 260.30 L653.55 263.25 L653.55 266.21 L652.57 268.18 L651.59 269.16 L649.64 270.15" stroke="#ff0000" stroke-width="1.55" fill="none" stroke-linecap="round" stroke-linejoin="round"/>
<path d="M705.88 254.74 L705.88 271.25M706.66 254.74 L706.66 271.25M711.32 259.46 L711.32 265.75M703.55 254.74 L715.98 254.74 L715.98 259.46 L715.20 254.74M706.66 262.60 L711.32 262.60M703.55 271.25 L715.98 271.25 L715.98 266.53 L715.20 271.25M721.22 265.32 L721.22 277.70M721.80 265.32 L721.80 277.70M719.47 265.32 L721.80 265.32M719.47 277.70 L723.55 277.70M727.82 261.82 L741.80 261.82M727.82 266.53 L741.80 266.53M749.56 257.89 L751.12 257.10 L753.45 254.74 L753.45 271.25M752.67 255.53 L752.67 271.25M749.56 271.25 L756.55 271.25M767.43 254.74 L765.10 255.53 L763.54 257.89 L762.77 261.82 L762.77 264.18 L763.54 268.11 L765.10 270.46 L767.43 271.25 L768.98 271.25 L771.31 270.46 L772.86 268.11 L773.64 264.18 L773.64 261.82 L772.86 257.89 L771.31 255.53 L768.98 254.74 L767.43 254.74M767.43 254.74 L765.87 255.53 L765.10 256.32 L764.32 257.89 L763.54 261.82 L763.54 264.18 L764.32 268.11 L765.10 269.68 L765.87 270.46 L767.43 271.25M768.98 271.25 L770.53 270.46 L771.31 269.68 L772.09 268.11 L772.86 264.18 L772.86 261.82 L772.09 257.89 L771.31 256.32 L770.53 255.53 L768.98 254.74M782.18 254.74 L779.85 255.53 L779.07 257.10 L779.07 259.46 L779.85 261.03 L782.18 261.82 L785.29 261.82 L787.62 261.03 L788.39 259.46 L788.39 257.10 L787.62 255.53 L785.29 254.74 L782.18 254.74M782.18 254.74 L780.63 255.53 L779.85 257.10 L779.85 259.46 L780.63 261.03 L782.18 261.82M785.29 261.82 L786.84 261.03 L787.62 259.46 L787.62 257.10 L786.84 255.53 L785.29 254.74M782.18 261.82 L779.85 262.60 L779.07 263.39 L778.30 264.96 L778.30 268.11 L779.07 269.68 L779.85 270.46 L782.18 271.25 L785.29 271.25 L787.62 270.46 L788.39 269.68 L789.17 268.11 L789.17 264.96 L788.39 263.39 L787.62 262.60 L785.29 261.82M782.18 261.82 L780.63 262.60 L779.85 263.39 L779.07 264.96 L779.07 268.11 L779.85 269.68 L780.63 270.46 L782.18 271.25M785.29 271.25 L786.84 270.46 L787.62 269.68 L788.39 268.11 L788.39 264.96 L787.62 263.39 L786.84 262.60 L785.29 261.82M807.81 254.74 L807.81 271.25M808.58 254.74 L808.58 271.25M818.68 254.74 L808.58 264.96M812.47 261.82 L818.68 271.25M811.69 261.82 L817.90 271.25M805.48 254.74 L810.91 254.74M815.57 254.74 L820.23 254.74M805.48 271.25 L810.91 271.25M815.57 271.25 L820.23 271.25" stroke="#ff0000" stroke-width="1.7" fill="none" stroke-linecap="round" stroke-linejoin="round"/>
<path d="M532.57 592.17 L532.57 612.85M533.54 592.17 L533.54 612.85M539.38 598.08 L539.38 605.96M529.65 592.17 L545.22 592.17 L545.22 598.08 L544.24 592.17M533.54 602.01 L539.38 602.01M529.65 612.85 L536.46 612.85M562.73 599.06 L561.76 602.01 L559.81 603.99 L556.90 604.97 L555.92 604.97 L553.00 603.99 L551.06 602.01 L550.08 599.06 L550.08 598.08 L551.06 595.12 L553.00 593.15 L555.92 592.17 L557.87 592.17 L560.79 593.15 L562.73 595.12 L563.71 598.08 L563.71 603.99 L562.73 607.93 L561.76 609.89 L559.81 611.87 L556.90 612.85 L553.98 612.85 L552.03 611.87 L551.06 609.89 L551.06 608.91 L552.03 607.93 L553.00 608.91 L552.03 609.89M555.92 604.97 L553.98 603.99 L552.03 602.01 L551.06 599.06 L551.06 598.08 L552.03 595.12 L553.98 593.15 L555.92 592.17M557.87 592.17 L559.81 593.15 L561.76 595.12 L562.73 598.08 L562.73 603.99 L561.76 607.93 L560.79 609.89 L558.84 611.87 L556.90 612.85M641.27 592.17 L641.27 612.85M642.24 592.17 L642.24 612.85M648.08 598.08 L648.08 605.96M638.35 592.17 L653.92 592.17 L653.92 598.08 L652.94 592.17M642.24 602.01 L648.08 602.01M638.35 612.85 L645.16 612.85M661.70 596.11 L663.65 595.12 L666.57 592.17 L666.57 612.85M665.60 593.15 L665.60 612.85M661.70 612.85 L670.46 612.85M684.09 592.17 L681.17 593.15 L679.22 596.11 L678.25 601.03 L678.25 603.99 L679.22 608.91 L681.17 611.87 L684.09 612.85 L686.03 612.85 L688.95 611.87 L690.90 608.91 L691.87 603.99 L691.87 601.03 L690.90 596.11 L688.95 593.15 L686.03 592.17 L684.09 592.17M684.09 592.17 L682.14 593.15 L681.17 594.13 L680.19 596.11 L679.22 601.03 L679.22 603.99 L680.19 608.91 L681.17 610.88 L682.14 611.87 L684.09 612.85M686.03 612.85 L687.98 611.87 L688.95 610.88 L689.92 608.91 L690.90 603.99 L690.90 601.03 L689.92 596.11 L688.95 594.13 L687.98 593.15 L686.03 592.17M821.77 592.17 L821.77 612.85M822.74 592.17 L822.74 612.85M828.58 598.08 L828.58 605.96M818.85 592.17 L834.42 592.17 L834.42 598.08 L833.44 592.17M822.74 602.01 L828.58 602.01M818.85 612.85 L825.66 612.85M842.20 596.11 L844.15 595.12 L847.07 592.17 L847.07 612.85M846.10 593.15 L846.10 612.85M842.20 612.85 L850.96 612.85M861.67 596.11 L863.61 595.12 L866.53 592.17 L866.53 612.85M865.56 593.15 L865.56 612.85M861.67 612.85 L870.42 612.85" stroke="#ff0000" stroke-width="1.9" fill="none" stroke-linecap="round" stroke-linejoin="round"/>
</svg>
</body></html>
